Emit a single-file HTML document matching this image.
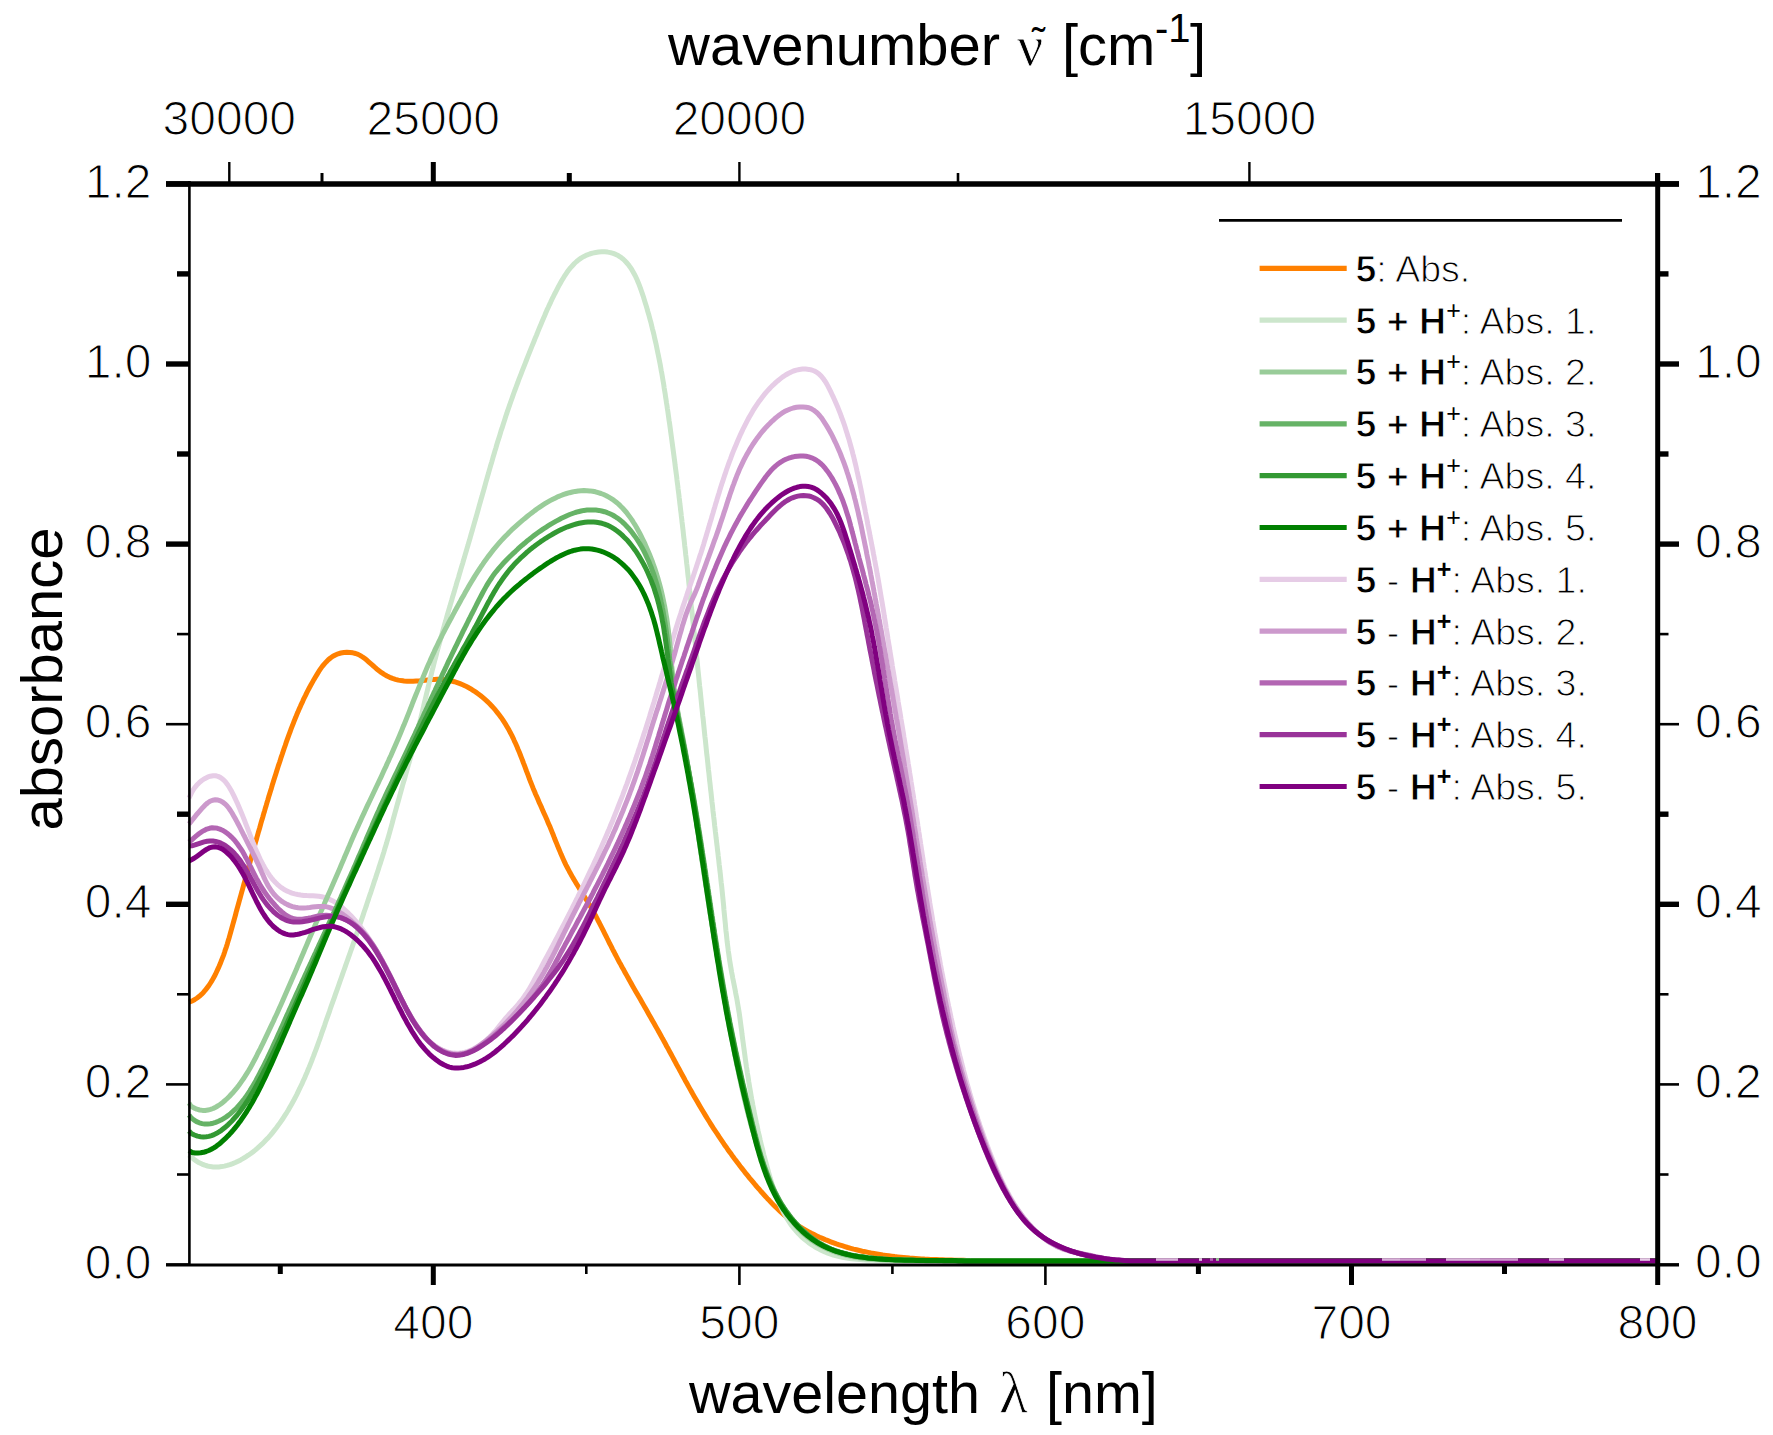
<!DOCTYPE html>
<html><head><meta charset="utf-8"><title>Absorbance spectra</title>
<style>
html,body{margin:0;padding:0;background:#fff;}
svg{display:block;}

</style></head><body>
<svg width="1773" height="1435" viewBox="0 0 1773 1435" font-family="Liberation Sans, Arial, sans-serif" fill="#000">
<rect width="1773" height="1435" fill="#fff"/>
<g fill="none" stroke-width="5.0" stroke-linejoin="round" stroke-linecap="butt">
<path d="M189.0,1002.0 L192.4,1000.9 L194.8,999.5 L197.1,998.0 L199.3,996.3 L201.4,994.4 L203.4,992.4 L205.3,990.2 L207.1,987.9 L208.9,985.5 L210.5,983.0 L212.1,980.4 L213.6,977.7 L215.1,975.0 L216.4,972.2 L217.7,969.4 L219.0,966.6 L220.2,963.8 L221.3,960.9 L222.4,958.1 L223.5,955.3 L224.5,952.5 L225.4,949.6 L226.4,946.8 L227.3,943.9 L228.1,941.1 L229.0,938.2 L229.8,935.4 L230.6,932.5 L231.4,929.6 L232.2,926.8 L233.0,923.9 L233.8,921.0 L234.6,918.1 L235.4,915.3 L236.1,912.4 L236.9,909.5 L237.7,906.6 L238.5,903.8 L239.3,900.9 L240.1,898.0 L240.9,895.1 L241.7,892.2 L242.5,889.3 L243.3,886.4 L244.1,883.5 L244.9,880.6 L245.7,877.7 L246.5,874.9 L247.3,872.0 L248.1,869.1 L248.9,866.2 L249.7,863.3 L250.5,860.4 L251.3,857.5 L252.1,854.6 L252.9,851.7 L253.7,848.8 L254.5,845.9 L255.3,843.0 L256.2,840.1 L257.0,837.2 L257.8,834.3 L258.6,831.4 L259.5,828.5 L260.3,825.6 L261.1,822.7 L261.9,819.9 L262.8,817.0 L263.6,814.1 L264.5,811.2 L265.3,808.3 L266.2,805.4 L267.0,802.6 L267.9,799.7 L268.7,796.8 L269.6,793.9 L270.5,791.1 L271.4,788.2 L272.2,785.3 L273.1,782.5 L274.0,779.6 L274.9,776.7 L275.8,773.9 L276.7,771.0 L277.6,768.2 L278.5,765.3 L279.5,762.5 L280.4,759.7 L281.3,756.8 L282.3,754.0 L283.2,751.2 L284.2,748.3 L285.2,745.5 L286.1,742.7 L287.1,739.9 L288.1,737.1 L289.1,734.3 L290.2,731.5 L291.2,728.7 L292.3,725.9 L293.4,723.1 L294.4,720.4 L295.6,717.6 L296.7,714.8 L297.9,712.1 L299.0,709.3 L300.3,706.6 L301.5,703.8 L302.8,701.1 L304.0,698.3 L305.4,695.6 L306.7,692.9 L308.1,690.2 L309.5,687.5 L311.0,684.8 L312.5,682.1 L314.0,679.4 L315.6,676.7 L317.2,674.1 L318.8,671.4 L320.5,668.9 L322.3,666.4 L324.2,664.1 L326.2,661.9 L328.3,659.8 L330.5,658.0 L332.9,656.3 L335.4,655.0 L338.1,653.8 L340.9,653.0 L343.9,652.5 L346.9,652.3 L350.0,652.5 L352.9,652.8 L355.6,653.5 L358.1,654.4 L360.4,655.6 L362.6,657.0 L364.8,658.6 L367.0,660.3 L369.2,662.3 L371.6,664.4 L374.0,666.5 L376.4,668.7 L379.0,670.7 L381.6,672.7 L384.2,674.4 L387.0,676.0 L389.7,677.3 L392.5,678.4 L395.4,679.3 L398.3,680.1 L401.2,680.6 L404.1,681.0 L407.1,681.2 L410.1,681.3 L413.1,681.3 L416.1,681.1 L419.1,680.9 L422.2,680.6 L425.2,680.3 L428.2,679.9 L431.2,679.6 L434.2,679.4 L437.2,679.3 L440.1,679.3 L443.0,679.5 L445.9,679.9 L448.8,680.3 L451.6,681.0 L454.4,681.7 L457.2,682.6 L460.0,683.6 L462.7,684.7 L465.3,685.9 L467.9,687.3 L470.5,688.7 L473.0,690.3 L475.5,691.9 L478.0,693.7 L480.4,695.5 L482.7,697.4 L485.0,699.4 L487.2,701.4 L489.4,703.5 L491.5,705.7 L493.5,707.9 L495.5,710.2 L497.4,712.6 L499.3,715.0 L501.1,717.4 L502.8,719.9 L504.4,722.4 L506.0,724.9 L507.5,727.5 L509.0,730.1 L510.4,732.7 L511.8,735.4 L513.1,738.1 L514.3,740.8 L515.6,743.5 L516.8,746.2 L517.9,749.0 L519.1,751.7 L520.2,754.5 L521.3,757.3 L522.4,760.1 L523.4,762.9 L524.5,765.7 L525.6,768.6 L526.6,771.4 L527.7,774.2 L528.8,777.1 L529.8,779.9 L530.9,782.7 L532.1,785.6 L533.2,788.4 L534.4,791.2 L535.5,794.0 L536.8,796.8 L538.0,799.6 L539.2,802.4 L540.4,805.1 L541.7,807.9 L542.9,810.7 L544.1,813.4 L545.4,816.2 L546.6,818.9 L547.7,821.7 L548.9,824.4 L550.1,827.1 L551.2,829.9 L552.3,832.6 L553.4,835.3 L554.4,838.0 L555.5,840.7 L556.6,843.4 L557.7,846.1 L558.8,848.8 L559.9,851.4 L561.0,854.1 L562.2,856.8 L563.4,859.5 L564.6,862.1 L565.9,864.8 L567.3,867.5 L568.7,870.1 L570.1,872.8 L571.6,875.4 L573.1,878.1 L574.7,880.7 L576.3,883.4 L577.9,886.0 L579.5,888.6 L581.2,891.3 L582.8,893.9 L584.4,896.6 L586.0,899.2 L587.6,901.8 L589.2,904.4 L590.8,907.1 L592.3,909.7 L593.7,912.3 L595.2,914.9 L596.6,917.6 L597.9,920.2 L599.3,922.8 L600.6,925.4 L602.0,928.1 L603.3,930.7 L604.6,933.3 L605.9,935.9 L607.2,938.5 L608.5,941.2 L609.8,943.8 L611.2,946.4 L612.5,949.1 L613.9,951.7 L615.2,954.3 L616.6,956.9 L618.0,959.6 L619.4,962.2 L620.9,964.8 L622.3,967.5 L623.8,970.1 L625.2,972.7 L626.7,975.4 L628.2,978.0 L629.6,980.6 L631.1,983.3 L632.6,985.9 L634.1,988.6 L635.6,991.2 L637.1,993.8 L638.7,996.5 L640.2,999.1 L641.7,1001.7 L643.2,1004.4 L644.7,1007.0 L646.2,1009.6 L647.7,1012.3 L649.2,1014.9 L650.7,1017.5 L652.2,1020.2 L653.7,1022.8 L655.2,1025.4 L656.7,1028.1 L658.2,1030.7 L659.6,1033.3 L661.1,1036.0 L662.5,1038.6 L664.0,1041.2 L665.4,1043.8 L666.8,1046.5 L668.3,1049.1 L669.7,1051.7 L671.1,1054.3 L672.5,1056.9 L673.9,1059.5 L675.3,1062.2 L676.7,1064.8 L678.2,1067.4 L679.6,1070.0 L681.0,1072.6 L682.4,1075.2 L683.8,1077.8 L685.2,1080.4 L686.7,1083.0 L688.1,1085.6 L689.5,1088.1 L691.0,1090.7 L692.4,1093.3 L693.9,1095.9 L695.4,1098.5 L696.9,1101.1 L698.4,1103.6 L699.9,1106.2 L701.4,1108.8 L702.9,1111.3 L704.5,1113.9 L706.0,1116.4 L707.6,1119.0 L709.2,1121.5 L710.8,1124.1 L712.4,1126.6 L714.0,1129.2 L715.7,1131.7 L717.4,1134.2 L719.0,1136.7 L720.7,1139.2 L722.4,1141.7 L724.1,1144.2 L725.9,1146.7 L727.6,1149.2 L729.4,1151.7 L731.2,1154.1 L732.9,1156.6 L734.7,1159.0 L736.6,1161.4 L738.4,1163.8 L740.2,1166.2 L742.1,1168.6 L744.0,1171.0 L745.8,1173.4 L747.7,1175.7 L749.6,1178.1 L751.6,1180.4 L753.5,1182.7 L755.4,1185.0 L757.4,1187.3 L759.4,1189.5 L761.3,1191.8 L763.3,1194.0 L765.3,1196.2 L767.3,1198.4 L769.4,1200.6 L771.4,1202.8 L773.5,1204.9 L775.6,1207.0 L777.7,1209.0 L779.9,1211.1 L782.1,1213.1 L784.3,1215.0 L786.5,1216.9 L788.8,1218.8 L791.2,1220.6 L793.5,1222.4 L796.0,1224.1 L798.4,1225.8 L801.0,1227.4 L803.5,1228.9 L806.1,1230.4 L808.8,1231.9 L811.4,1233.3 L814.1,1234.6 L816.8,1235.9 L819.6,1237.2 L822.4,1238.4 L825.1,1239.6 L827.9,1240.7 L830.7,1241.8 L833.6,1242.9 L836.4,1243.9 L839.2,1244.8 L842.1,1245.7 L844.9,1246.6 L847.8,1247.5 L850.7,1248.3 L853.6,1249.1 L856.5,1249.8 L859.4,1250.5 L862.3,1251.2 L865.2,1251.8 L868.1,1252.4 L871.0,1253.0 L874.0,1253.5 L876.9,1254.0 L879.9,1254.5 L882.8,1255.0 L885.8,1255.4 L888.8,1255.8 L891.7,1256.2 L894.7,1256.6 L897.7,1256.9 L900.7,1257.2 L903.6,1257.5 L906.6,1257.8 L909.6,1258.1 L912.6,1258.3 L915.6,1258.5 L918.6,1258.7 L921.6,1258.9 L924.6,1259.1 L927.6,1259.2 L930.6,1259.4 L933.6,1259.5 L936.6,1259.6 L939.6,1259.7 L942.6,1259.8 L945.6,1259.9 L948.6,1260.0 L951.6,1260.1 L954.6,1260.2 L957.6,1260.2 L960.6,1260.3 L963.6,1260.3 L966.6,1260.4 L969.6,1260.5 L972.6,1260.5 L975.6,1260.6 L978.6,1260.6 L981.6,1260.7 L984.6,1260.7 L987.6,1260.8 L990.6,1260.8 L993.6,1260.9 L996.6,1261.0 L999.6,1261.1 L1000.0,1261.0 L1010.0,1261.0 L1019.9,1261.0 L1029.9,1261.0 L1039.8,1261.0 L1049.8,1261.0 L1059.7,1261.0 L1069.7,1261.0 L1079.6,1261.0 L1089.6,1261.0 L1099.5,1261.0 L1109.5,1261.0 L1119.5,1261.0 L1129.4,1261.0 L1139.4,1261.0 L1149.3,1261.0 L1159.3,1261.0 L1169.2,1261.0 L1179.2,1261.0 L1189.1,1261.0 L1199.1,1261.0 L1209.0,1261.0 L1219.0,1261.0 L1229.0,1261.0 L1238.9,1261.0 L1248.9,1261.0 L1258.8,1261.0 L1268.8,1261.0 L1278.7,1261.0 L1288.7,1261.0 L1298.6,1261.0 L1308.6,1261.0 L1318.5,1261.0 L1328.5,1261.0 L1338.5,1261.0 L1348.4,1261.0 L1358.4,1261.0 L1368.3,1261.0 L1378.3,1261.0 L1388.2,1261.0 L1398.2,1261.0 L1408.1,1261.0 L1418.1,1261.0 L1428.0,1261.0 L1438.0,1261.0 L1448.0,1261.0 L1457.9,1261.0 L1467.9,1261.0 L1477.8,1261.0 L1487.8,1261.0 L1497.7,1261.0 L1507.7,1261.0 L1517.6,1261.0 L1527.6,1261.0 L1537.5,1261.0 L1547.5,1261.0 L1557.5,1261.0 L1567.4,1261.0 L1577.4,1261.0 L1587.3,1261.0 L1597.3,1261.0 L1607.2,1261.0 L1617.2,1261.0 L1627.1,1261.0 L1637.1,1261.0 L1647.0,1261.0 L1657.0,1261.0" stroke="#ff8000"/>
<path d="M189.0,1155.0 L191.2,1156.9 L193.8,1159.2 L196.5,1161.1 L199.2,1162.8 L202.0,1164.1 L204.8,1165.2 L207.5,1166.0 L210.3,1166.6 L213.2,1166.9 L216.0,1167.0 L218.8,1166.9 L221.6,1166.6 L224.4,1166.1 L227.2,1165.4 L230.0,1164.6 L232.7,1163.6 L235.4,1162.5 L238.1,1161.2 L240.7,1159.9 L243.3,1158.4 L245.8,1156.8 L248.3,1155.2 L250.8,1153.5 L253.2,1151.7 L255.5,1149.9 L257.8,1147.9 L260.0,1145.9 L262.2,1143.9 L264.3,1141.8 L266.4,1139.6 L268.5,1137.4 L270.5,1135.1 L272.4,1132.8 L274.3,1130.4 L276.2,1128.0 L278.0,1125.6 L279.8,1123.1 L281.6,1120.5 L283.3,1118.0 L284.9,1115.4 L286.6,1112.8 L288.2,1110.2 L289.7,1107.5 L291.2,1104.9 L292.7,1102.2 L294.2,1099.5 L295.6,1096.8 L297.0,1094.1 L298.3,1091.4 L299.6,1088.7 L300.9,1086.0 L302.2,1083.3 L303.4,1080.5 L304.7,1077.8 L305.8,1075.1 L307.0,1072.4 L308.1,1069.6 L309.3,1066.9 L310.4,1064.1 L311.5,1061.4 L312.5,1058.6 L313.6,1055.9 L314.6,1053.1 L315.7,1050.3 L316.7,1047.6 L317.7,1044.8 L318.7,1042.0 L319.7,1039.3 L320.7,1036.5 L321.6,1033.7 L322.6,1030.9 L323.6,1028.1 L324.6,1025.3 L325.5,1022.5 L326.5,1019.7 L327.5,1016.9 L328.5,1014.1 L329.5,1011.3 L330.4,1008.5 L331.4,1005.7 L332.4,1002.9 L333.4,1000.1 L334.4,997.3 L335.4,994.4 L336.4,991.6 L337.4,988.8 L338.4,986.0 L339.4,983.2 L340.4,980.3 L341.4,977.5 L342.4,974.7 L343.4,971.8 L344.4,969.0 L345.4,966.2 L346.4,963.3 L347.4,960.5 L348.4,957.6 L349.4,954.8 L350.4,952.0 L351.4,949.1 L352.4,946.3 L353.4,943.4 L354.4,940.6 L355.3,937.7 L356.3,934.9 L357.3,932.0 L358.3,929.2 L359.3,926.3 L360.2,923.5 L361.2,920.6 L362.2,917.8 L363.2,914.9 L364.1,912.1 L365.1,909.2 L366.1,906.4 L367.0,903.5 L368.0,900.7 L368.9,897.8 L369.9,894.9 L370.9,892.1 L371.8,889.2 L372.8,886.3 L373.7,883.5 L374.6,880.6 L375.6,877.8 L376.5,874.9 L377.5,872.0 L378.4,869.2 L379.3,866.3 L380.3,863.4 L381.2,860.6 L382.1,857.7 L383.0,854.8 L383.9,851.9 L384.7,849.1 L385.6,846.2 L386.5,843.3 L387.3,840.4 L388.2,837.6 L389.0,834.7 L389.8,831.8 L390.6,828.9 L391.4,826.1 L392.2,823.2 L392.9,820.3 L393.7,817.4 L394.5,814.6 L395.3,811.7 L396.1,808.8 L396.9,805.9 L397.7,803.0 L398.5,800.2 L399.3,797.3 L400.1,794.4 L400.9,791.5 L401.7,788.6 L402.5,785.7 L403.3,782.8 L404.2,780.0 L405.0,777.1 L405.8,774.2 L406.6,771.3 L407.4,768.4 L408.2,765.5 L409.1,762.6 L409.9,759.7 L410.7,756.9 L411.5,754.0 L412.2,751.1 L413.0,748.2 L413.8,745.3 L414.6,742.4 L415.3,739.5 L416.1,736.6 L416.8,733.7 L417.6,730.8 L418.3,727.9 L419.0,725.1 L419.7,722.2 L420.5,719.3 L421.2,716.4 L421.9,713.5 L422.6,710.6 L423.3,707.7 L423.9,704.8 L424.6,701.9 L425.3,699.0 L426.0,696.1 L426.7,693.2 L427.4,690.3 L428.1,687.4 L428.8,684.5 L429.5,681.6 L430.2,678.7 L430.9,675.8 L431.6,672.9 L432.3,670.0 L433.1,667.1 L433.8,664.2 L434.5,661.3 L435.3,658.5 L436.1,655.6 L436.8,652.7 L437.6,649.8 L438.4,646.9 L439.2,644.0 L440.0,641.1 L440.8,638.2 L441.6,635.3 L442.4,632.4 L443.2,629.5 L444.0,626.6 L444.8,623.7 L445.7,620.8 L446.5,617.9 L447.3,615.0 L448.2,612.1 L449.0,609.2 L449.9,606.3 L450.7,603.4 L451.6,600.5 L452.4,597.6 L453.3,594.7 L454.2,591.8 L455.0,588.9 L455.9,586.0 L456.7,583.1 L457.6,580.2 L458.5,577.4 L459.3,574.5 L460.2,571.6 L461.0,568.7 L461.9,565.8 L462.8,562.9 L463.6,560.0 L464.5,557.1 L465.3,554.2 L466.2,551.3 L467.0,548.4 L467.9,545.6 L468.7,542.7 L469.6,539.8 L470.4,536.9 L471.2,534.0 L472.1,531.1 L472.9,528.2 L473.7,525.4 L474.5,522.5 L475.4,519.6 L476.2,516.7 L477.0,513.8 L477.8,511.0 L478.6,508.1 L479.4,505.2 L480.2,502.3 L481.0,499.5 L481.9,496.6 L482.7,493.7 L483.5,490.8 L484.3,488.0 L485.1,485.1 L485.9,482.2 L486.7,479.3 L487.5,476.5 L488.4,473.6 L489.2,470.7 L490.0,467.9 L490.8,465.0 L491.7,462.2 L492.5,459.3 L493.3,456.4 L494.2,453.6 L495.0,450.7 L495.9,447.9 L496.7,445.0 L497.6,442.1 L498.5,439.3 L499.4,436.4 L500.3,433.6 L501.1,430.7 L502.1,427.9 L503.0,425.0 L503.9,422.2 L504.8,419.4 L505.7,416.5 L506.7,413.7 L507.6,410.8 L508.6,408.0 L509.6,405.2 L510.6,402.3 L511.6,399.5 L512.6,396.7 L513.6,393.8 L514.6,391.0 L515.7,388.2 L516.7,385.3 L517.8,382.5 L518.8,379.7 L519.9,376.9 L521.0,374.1 L522.1,371.2 L523.2,368.4 L524.3,365.6 L525.4,362.8 L526.5,360.0 L527.6,357.2 L528.7,354.4 L529.8,351.6 L530.9,348.8 L532.0,346.1 L533.2,343.3 L534.3,340.5 L535.4,337.7 L536.6,335.0 L537.7,332.2 L538.8,329.4 L539.9,326.7 L541.1,323.9 L542.2,321.2 L543.4,318.4 L544.6,315.7 L545.7,313.0 L546.9,310.2 L548.2,307.5 L549.4,304.8 L550.7,302.1 L551.9,299.4 L553.3,296.7 L554.6,294.0 L556.0,291.3 L557.4,288.6 L558.8,285.9 L560.3,283.2 L561.8,280.6 L563.4,277.9 L565.0,275.3 L566.7,272.8 L568.5,270.3 L570.4,267.9 L572.4,265.7 L574.4,263.5 L576.6,261.5 L578.9,259.6 L581.4,257.9 L584.0,256.4 L586.7,255.1 L589.6,254.0 L592.5,253.1 L595.6,252.5 L598.6,252.0 L601.7,251.8 L604.7,251.8 L607.7,252.1 L610.5,252.6 L613.2,253.4 L615.8,254.4 L618.2,255.6 L620.5,257.1 L622.6,258.7 L624.6,260.5 L626.5,262.5 L628.3,264.6 L630.0,266.9 L631.6,269.2 L633.0,271.7 L634.4,274.3 L635.8,276.9 L637.0,279.6 L638.2,282.4 L639.3,285.2 L640.4,288.1 L641.4,291.0 L642.4,293.9 L643.4,296.8 L644.3,299.7 L645.2,302.7 L646.1,305.6 L647.0,308.5 L647.8,311.5 L648.7,314.4 L649.5,317.4 L650.3,320.3 L651.1,323.2 L651.8,326.2 L652.5,329.1 L653.3,332.1 L654.0,335.0 L654.6,337.9 L655.3,340.9 L656.0,343.8 L656.6,346.8 L657.2,349.7 L657.8,352.7 L658.4,355.6 L659.0,358.6 L659.6,361.5 L660.2,364.5 L660.7,367.4 L661.2,370.4 L661.8,373.3 L662.3,376.3 L662.8,379.3 L663.3,382.2 L663.8,385.2 L664.2,388.1 L664.7,391.1 L665.2,394.0 L665.6,397.0 L666.1,400.0 L666.5,402.9 L667.0,405.9 L667.4,408.8 L667.9,411.8 L668.3,414.8 L668.7,417.7 L669.1,420.7 L669.6,423.7 L670.0,426.6 L670.4,429.6 L670.8,432.6 L671.2,435.5 L671.6,438.5 L672.0,441.5 L672.4,444.4 L672.8,447.4 L673.2,450.4 L673.6,453.3 L674.0,456.3 L674.4,459.3 L674.8,462.3 L675.1,465.2 L675.5,468.2 L675.9,471.2 L676.3,474.2 L676.7,477.1 L677.0,480.1 L677.4,483.1 L677.8,486.0 L678.1,489.0 L678.5,492.0 L678.9,495.0 L679.2,498.0 L679.6,500.9 L679.9,503.9 L680.3,506.9 L680.6,509.9 L681.0,512.8 L681.3,515.8 L681.7,518.8 L682.0,521.8 L682.4,524.8 L682.7,527.7 L683.1,530.7 L683.4,533.7 L683.7,536.7 L684.1,539.7 L684.4,542.6 L684.7,545.6 L685.1,548.6 L685.4,551.6 L685.7,554.6 L686.1,557.5 L686.4,560.5 L686.7,563.5 L687.1,566.5 L687.4,569.5 L687.7,572.4 L688.0,575.4 L688.4,578.4 L688.7,581.4 L689.0,584.4 L689.3,587.3 L689.6,590.3 L690.0,593.3 L690.3,596.3 L690.6,599.3 L690.9,602.3 L691.2,605.2 L691.5,608.2 L691.9,611.2 L692.2,614.2 L692.5,617.2 L692.8,620.2 L693.1,623.1 L693.4,626.1 L693.7,629.1 L694.1,632.1 L694.4,635.1 L694.7,638.0 L695.0,641.0 L695.3,644.0 L695.6,647.0 L695.9,650.0 L696.2,653.0 L696.5,655.9 L696.9,658.9 L697.2,661.9 L697.5,664.9 L697.8,667.9 L698.1,670.9 L698.4,673.8 L698.7,676.8 L699.0,679.8 L699.3,682.8 L699.6,685.8 L700.0,688.8 L700.3,691.7 L700.6,694.7 L700.9,697.7 L701.2,700.7 L701.5,703.7 L701.8,706.7 L702.1,709.6 L702.4,712.6 L702.7,715.6 L703.1,718.6 L703.4,721.6 L703.7,724.6 L704.0,727.5 L704.3,730.5 L704.6,733.5 L704.9,736.5 L705.3,739.5 L705.6,742.5 L705.9,745.4 L706.2,748.4 L706.5,751.4 L706.8,754.4 L707.2,757.4 L707.5,760.4 L707.8,763.3 L708.1,766.3 L708.4,769.3 L708.8,772.3 L709.1,775.3 L709.4,778.3 L709.7,781.2 L710.1,784.2 L710.4,787.2 L710.7,790.2 L711.1,793.2 L711.4,796.2 L711.7,799.1 L712.0,802.1 L712.4,805.1 L712.7,808.1 L713.0,811.1 L713.4,814.1 L713.7,817.0 L714.1,820.0 L714.4,823.0 L714.7,826.0 L715.1,829.0 L715.4,832.0 L715.8,834.9 L716.1,837.9 L716.5,840.9 L716.8,843.9 L717.2,846.9 L717.5,849.9 L717.9,852.8 L718.2,855.8 L718.6,858.8 L718.9,861.8 L719.2,864.8 L719.6,867.7 L719.9,870.7 L720.3,873.7 L720.6,876.7 L720.9,879.7 L721.2,882.6 L721.6,885.6 L721.9,888.6 L722.2,891.6 L722.5,894.6 L722.8,897.5 L723.1,900.5 L723.4,903.5 L723.7,906.5 L723.9,909.5 L724.2,912.4 L724.5,915.4 L724.8,918.4 L725.1,921.4 L725.4,924.4 L725.6,927.3 L725.9,930.3 L726.3,933.3 L726.6,936.3 L726.9,939.2 L727.2,942.2 L727.6,945.2 L728.0,948.2 L728.3,951.1 L728.8,954.1 L729.2,957.1 L729.6,960.0 L730.1,963.0 L730.6,966.0 L731.1,969.0 L731.6,971.9 L732.2,974.9 L732.7,977.9 L733.3,980.8 L733.9,983.8 L734.5,986.8 L735.1,989.7 L735.6,992.7 L736.2,995.7 L736.8,998.6 L737.3,1001.6 L737.8,1004.6 L738.3,1007.5 L738.8,1010.5 L739.3,1013.5 L739.7,1016.4 L740.1,1019.4 L740.5,1022.3 L740.9,1025.3 L741.3,1028.3 L741.7,1031.2 L742.0,1034.2 L742.4,1037.1 L742.8,1040.1 L743.2,1043.0 L743.6,1046.0 L744.0,1048.9 L744.4,1051.9 L744.8,1054.9 L745.2,1057.8 L745.6,1060.8 L746.0,1063.7 L746.4,1066.7 L746.9,1069.6 L747.3,1072.6 L747.8,1075.5 L748.3,1078.4 L748.7,1081.4 L749.2,1084.3 L749.7,1087.3 L750.2,1090.2 L750.7,1093.2 L751.2,1096.1 L751.7,1099.0 L752.3,1102.0 L752.8,1104.9 L753.4,1107.9 L753.9,1110.8 L754.5,1113.7 L755.1,1116.7 L755.7,1119.6 L756.3,1122.5 L757.0,1125.5 L757.6,1128.4 L758.2,1131.3 L758.9,1134.3 L759.6,1137.2 L760.2,1140.1 L760.9,1143.1 L761.6,1146.0 L762.4,1148.9 L763.1,1151.9 L763.8,1154.8 L764.6,1157.7 L765.4,1160.7 L766.2,1163.6 L767.0,1166.6 L767.8,1169.5 L768.6,1172.4 L769.5,1175.4 L770.3,1178.3 L771.2,1181.2 L772.1,1184.1 L773.1,1187.0 L774.0,1189.9 L775.0,1192.8 L776.1,1195.6 L777.2,1198.4 L778.3,1201.2 L779.5,1204.0 L780.7,1206.7 L782.0,1209.4 L783.3,1212.0 L784.7,1214.6 L786.2,1217.2 L787.7,1219.7 L789.3,1222.2 L790.9,1224.6 L792.7,1226.9 L794.5,1229.2 L796.4,1231.4 L798.3,1233.5 L800.4,1235.6 L802.5,1237.6 L804.8,1239.6 L807.1,1241.4 L809.4,1243.2 L811.9,1244.9 L814.4,1246.5 L817.0,1248.0 L819.6,1249.4 L822.3,1250.7 L825.0,1252.0 L827.8,1253.1 L830.7,1254.1 L833.5,1255.1 L836.4,1255.9 L839.4,1256.6 L842.3,1257.2 L845.3,1257.8 L848.3,1258.3 L851.3,1258.7 L854.3,1259.0 L857.3,1259.3 L860.4,1259.5 L863.4,1259.7 L866.4,1259.9 L869.4,1260.0 L872.4,1260.1 L875.4,1260.2 L878.4,1260.3 L881.3,1260.3 L884.3,1260.4 L887.3,1260.4 L890.3,1260.4 L893.2,1260.4 L896.2,1260.4 L899.2,1260.5 L902.2,1260.5 L905.1,1260.5 L908.1,1260.5 L911.1,1260.5 L914.1,1260.6 L917.1,1260.6 L920.2,1260.7 L923.2,1260.8 L926.2,1260.9 L929.3,1261.1 L931.4,1260.9 L940.0,1261.0 L950.0,1261.0 L959.9,1261.0 L969.9,1261.0 L979.8,1261.0 L989.8,1261.0 L999.8,1261.0 L1009.7,1261.0 L1019.7,1261.0 L1029.6,1261.0 L1039.6,1261.0 L1049.5,1261.0 L1059.5,1261.0 L1069.5,1261.0 L1079.4,1261.0 L1089.4,1261.0 L1099.3,1261.0 L1109.3,1261.0 L1119.2,1261.0 L1129.2,1261.0 L1139.2,1261.0 L1149.1,1261.0 L1159.1,1261.0 L1169.0,1261.0 L1179.0,1261.0 L1189.0,1261.0 L1198.9,1261.0 L1208.9,1261.0 L1218.8,1261.0 L1228.8,1261.0 L1238.8,1261.0 L1248.7,1261.0 L1258.7,1261.0 L1268.6,1261.0 L1278.6,1261.0 L1288.5,1261.0 L1298.5,1261.0 L1308.5,1261.0 L1318.4,1261.0 L1328.4,1261.0 L1338.3,1261.0 L1348.3,1261.0 L1358.2,1261.0 L1368.2,1261.0 L1378.2,1261.0 L1388.1,1261.0 L1398.1,1261.0 L1408.0,1261.0 L1418.0,1261.0 L1428.0,1261.0 L1437.9,1261.0 L1447.9,1261.0 L1457.8,1261.0 L1467.8,1261.0 L1477.8,1261.0 L1487.7,1261.0 L1497.7,1261.0 L1507.6,1261.0 L1517.6,1261.0 L1527.5,1261.0 L1537.5,1261.0 L1547.5,1261.0 L1557.4,1261.0 L1567.4,1261.0 L1577.3,1261.0 L1587.3,1261.0 L1597.2,1261.0 L1607.2,1261.0 L1617.2,1261.0 L1627.1,1261.0 L1637.1,1261.0 L1647.0,1261.0 L1657.0,1261.0" stroke="#cce6cc"/>
<path d="M189.0,798.0 L190.2,795.7 L191.4,793.1 L192.9,790.4 L194.7,787.7 L196.8,785.1 L199.2,782.7 L201.8,780.5 L204.6,778.7 L207.5,777.2 L210.3,776.2 L213.1,775.7 L215.6,775.8 L218.0,776.4 L220.2,777.4 L222.3,778.8 L224.3,780.6 L226.1,782.7 L227.8,785.0 L229.4,787.5 L231.0,790.2 L232.4,792.9 L233.8,795.7 L235.1,798.4 L236.4,801.2 L237.7,803.9 L238.9,806.7 L240.0,809.4 L241.2,812.2 L242.3,814.9 L243.4,817.6 L244.5,820.4 L245.5,823.1 L246.6,825.9 L247.7,828.6 L248.7,831.4 L249.8,834.2 L250.8,836.9 L251.9,839.7 L253.0,842.5 L254.2,845.3 L255.3,848.2 L256.5,851.0 L257.8,853.8 L259.1,856.7 L260.4,859.5 L261.8,862.3 L263.2,865.0 L264.7,867.7 L266.3,870.4 L267.9,872.9 L269.6,875.4 L271.4,877.8 L273.3,880.1 L275.3,882.3 L277.3,884.3 L279.5,886.2 L281.8,887.9 L284.1,889.5 L286.6,890.9 L289.3,892.0 L292.0,893.1 L294.8,893.9 L297.7,894.5 L300.7,895.0 L303.7,895.4 L306.8,895.6 L309.8,895.7 L312.9,895.8 L315.9,896.0 L318.8,896.2 L321.7,896.7 L324.5,897.4 L327.2,898.3 L329.8,899.4 L332.4,900.7 L334.9,902.2 L337.3,903.8 L339.7,905.5 L342.0,907.3 L344.2,909.3 L346.4,911.3 L348.6,913.4 L350.7,915.5 L352.7,917.7 L354.7,920.0 L356.7,922.2 L358.6,924.6 L360.5,926.9 L362.4,929.3 L364.2,931.7 L366.0,934.2 L367.7,936.7 L369.4,939.2 L371.1,941.8 L372.7,944.3 L374.3,946.9 L375.9,949.5 L377.4,952.1 L378.9,954.8 L380.4,957.4 L381.9,960.1 L383.3,962.7 L384.8,965.4 L386.2,968.0 L387.5,970.7 L388.9,973.4 L390.2,976.0 L391.5,978.6 L392.8,981.3 L394.1,983.9 L395.4,986.5 L396.7,989.1 L398.0,991.7 L399.3,994.4 L400.6,997.0 L401.9,999.6 L403.3,1002.2 L404.6,1004.8 L406.0,1007.5 L407.4,1010.1 L408.9,1012.8 L410.4,1015.4 L411.9,1018.1 L413.5,1020.8 L415.2,1023.5 L416.9,1026.1 L418.7,1028.7 L420.5,1031.3 L422.4,1033.7 L424.4,1036.1 L426.4,1038.4 L428.5,1040.6 L430.8,1042.6 L433.1,1044.5 L435.5,1046.2 L437.9,1047.8 L440.5,1049.2 L443.1,1050.4 L445.7,1051.4 L448.4,1052.2 L451.1,1052.7 L453.9,1053.1 L456.7,1053.2 L459.5,1053.1 L462.3,1052.8 L465.1,1052.2 L467.9,1051.3 L470.6,1050.2 L473.4,1049.0 L476.0,1047.5 L478.7,1045.9 L481.2,1044.1 L483.7,1042.3 L486.1,1040.3 L488.4,1038.2 L490.6,1036.1 L492.6,1034.0 L494.6,1031.8 L496.5,1029.6 L498.3,1027.4 L500.1,1025.1 L501.9,1022.8 L503.8,1020.5 L505.7,1018.2 L507.8,1015.9 L509.9,1013.5 L512.1,1011.1 L514.4,1008.7 L516.5,1006.3 L518.6,1003.9 L520.6,1001.4 L522.5,999.0 L524.3,996.5 L526.0,994.0 L527.6,991.5 L529.2,989.0 L530.7,986.4 L532.1,983.9 L533.5,981.4 L534.9,978.8 L536.3,976.3 L537.7,973.7 L539.1,971.1 L540.5,968.6 L541.9,966.0 L543.2,963.4 L544.6,960.8 L546.0,958.2 L547.4,955.6 L548.8,953.0 L550.2,950.4 L551.6,947.8 L553.0,945.2 L554.3,942.6 L555.7,940.0 L557.1,937.3 L558.5,934.7 L559.9,932.0 L561.2,929.4 L562.6,926.8 L564.0,924.1 L565.4,921.4 L566.7,918.8 L568.1,916.1 L569.5,913.5 L570.8,910.8 L572.2,908.1 L573.5,905.4 L574.9,902.7 L576.2,900.0 L577.6,897.3 L578.9,894.6 L580.2,891.9 L581.6,889.2 L582.9,886.5 L584.2,883.8 L585.5,881.1 L586.8,878.4 L588.1,875.7 L589.4,872.9 L590.7,870.2 L592.0,867.5 L593.3,864.7 L594.5,862.0 L595.8,859.2 L597.1,856.5 L598.3,853.7 L599.5,851.0 L600.8,848.2 L602.0,845.5 L603.2,842.7 L604.4,839.9 L605.6,837.2 L606.8,834.4 L608.0,831.6 L609.2,828.9 L610.3,826.1 L611.5,823.3 L612.7,820.5 L613.8,817.7 L614.9,814.9 L616.0,812.1 L617.1,809.3 L618.2,806.5 L619.3,803.7 L620.4,800.9 L621.5,798.1 L622.6,795.3 L623.6,792.5 L624.7,789.7 L625.7,786.9 L626.8,784.1 L627.8,781.3 L628.8,778.4 L629.8,775.6 L630.8,772.8 L631.8,770.0 L632.8,767.1 L633.8,764.3 L634.8,761.5 L635.8,758.7 L636.7,755.8 L637.7,753.0 L638.6,750.1 L639.6,747.3 L640.5,744.5 L641.5,741.6 L642.4,738.8 L643.3,735.9 L644.2,733.1 L645.2,730.3 L646.1,727.4 L647.0,724.6 L647.9,721.7 L648.8,718.9 L649.7,716.0 L650.5,713.2 L651.4,710.3 L652.3,707.4 L653.2,704.6 L654.1,701.7 L654.9,698.9 L655.8,696.0 L656.6,693.2 L657.5,690.3 L658.4,687.5 L659.2,684.6 L660.1,681.7 L660.9,678.9 L661.7,676.0 L662.6,673.2 L663.4,670.3 L664.3,667.4 L665.1,664.6 L666.0,661.7 L666.8,658.9 L667.7,656.0 L668.5,653.1 L669.4,650.3 L670.2,647.4 L671.1,644.5 L671.9,641.7 L672.8,638.8 L673.7,635.9 L674.6,633.1 L675.4,630.2 L676.3,627.3 L677.2,624.5 L678.1,621.6 L679.0,618.7 L679.9,615.9 L680.9,613.0 L681.8,610.1 L682.7,607.3 L683.7,604.4 L684.7,601.5 L685.6,598.7 L686.6,595.8 L687.5,592.9 L688.5,590.1 L689.5,587.2 L690.5,584.3 L691.4,581.5 L692.4,578.6 L693.4,575.7 L694.3,572.9 L695.3,570.0 L696.3,567.1 L697.2,564.3 L698.2,561.4 L699.1,558.5 L700.0,555.6 L701.0,552.8 L701.9,549.9 L702.8,547.0 L703.7,544.2 L704.5,541.3 L705.4,538.4 L706.3,535.6 L707.1,532.7 L708.0,529.8 L708.8,527.0 L709.7,524.1 L710.5,521.2 L711.4,518.4 L712.2,515.5 L713.1,512.7 L713.9,509.8 L714.8,506.9 L715.6,504.1 L716.5,501.2 L717.3,498.4 L718.2,495.5 L719.1,492.7 L719.9,489.9 L720.8,487.0 L721.7,484.2 L722.7,481.4 L723.6,478.5 L724.5,475.7 L725.5,472.9 L726.4,470.1 L727.4,467.2 L728.4,464.4 L729.4,461.6 L730.5,458.8 L731.5,456.0 L732.6,453.2 L733.7,450.4 L734.8,447.7 L736.0,444.9 L737.2,442.1 L738.4,439.3 L739.6,436.6 L740.8,433.8 L742.1,431.1 L743.4,428.3 L744.8,425.6 L746.2,422.9 L747.6,420.2 L749.0,417.5 L750.5,414.9 L752.1,412.2 L753.6,409.6 L755.2,407.1 L756.9,404.6 L758.6,402.1 L760.4,399.7 L762.2,397.3 L764.0,394.9 L765.9,392.6 L767.9,390.4 L769.9,388.2 L771.9,386.1 L774.1,384.1 L776.2,382.1 L778.5,380.2 L780.8,378.4 L783.2,376.6 L785.6,375.0 L788.2,373.5 L790.8,372.2 L793.5,371.0 L796.4,370.1 L799.4,369.5 L802.5,369.1 L805.7,369.1 L808.8,369.4 L811.7,370.0 L814.4,371.0 L816.9,372.4 L819.1,374.1 L821.2,376.1 L823.0,378.3 L824.7,380.7 L826.3,383.2 L827.8,385.9 L829.2,388.6 L830.6,391.4 L831.9,394.2 L833.2,396.9 L834.5,399.7 L835.7,402.5 L836.9,405.3 L838.1,408.1 L839.2,410.9 L840.3,413.7 L841.3,416.5 L842.4,419.3 L843.4,422.1 L844.4,425.0 L845.3,427.8 L846.2,430.7 L847.1,433.5 L848.0,436.4 L848.9,439.2 L849.7,442.1 L850.5,445.0 L851.3,447.9 L852.1,450.7 L852.8,453.6 L853.6,456.5 L854.3,459.4 L855.0,462.3 L855.7,465.2 L856.4,468.2 L857.0,471.1 L857.7,474.0 L858.3,476.9 L859.0,479.8 L859.6,482.8 L860.2,485.7 L860.8,488.6 L861.4,491.6 L862.0,494.5 L862.6,497.5 L863.1,500.4 L863.7,503.4 L864.3,506.3 L864.9,509.2 L865.4,512.2 L866.0,515.1 L866.6,518.1 L867.2,521.0 L867.7,524.0 L868.3,526.9 L868.9,529.9 L869.5,532.8 L870.0,535.8 L870.6,538.7 L871.2,541.7 L871.7,544.6 L872.3,547.6 L872.9,550.5 L873.4,553.5 L874.0,556.4 L874.5,559.4 L875.1,562.3 L875.6,565.3 L876.2,568.2 L876.7,571.2 L877.2,574.1 L877.8,577.1 L878.3,580.0 L878.8,583.0 L879.3,586.0 L879.8,588.9 L880.3,591.9 L880.8,594.8 L881.3,597.8 L881.8,600.7 L882.3,603.7 L882.8,606.6 L883.3,609.6 L883.8,612.6 L884.2,615.5 L884.7,618.5 L885.2,621.4 L885.7,624.4 L886.1,627.3 L886.6,630.3 L887.1,633.2 L887.6,636.2 L888.0,639.2 L888.5,642.1 L889.0,645.1 L889.5,648.0 L889.9,651.0 L890.4,654.0 L890.9,656.9 L891.4,659.9 L891.9,662.8 L892.3,665.8 L892.8,668.8 L893.3,671.7 L893.8,674.7 L894.3,677.6 L894.7,680.6 L895.2,683.6 L895.7,686.5 L896.2,689.5 L896.7,692.4 L897.2,695.4 L897.7,698.4 L898.1,701.3 L898.6,704.3 L899.1,707.2 L899.6,710.2 L900.1,713.2 L900.6,716.1 L901.0,719.1 L901.5,722.1 L902.0,725.0 L902.5,728.0 L903.0,730.9 L903.5,733.9 L903.9,736.9 L904.4,739.8 L904.9,742.8 L905.4,745.8 L905.8,748.7 L906.3,751.7 L906.8,754.7 L907.3,757.6 L907.8,760.6 L908.2,763.6 L908.7,766.5 L909.2,769.5 L909.6,772.4 L910.1,775.4 L910.6,778.4 L911.0,781.3 L911.5,784.3 L912.0,787.3 L912.4,790.2 L912.9,793.2 L913.4,796.2 L913.8,799.1 L914.3,802.1 L914.7,805.1 L915.2,808.0 L915.6,811.0 L916.1,814.0 L916.5,816.9 L917.0,819.9 L917.5,822.9 L917.9,825.8 L918.4,828.8 L918.8,831.8 L919.3,834.7 L919.7,837.7 L920.2,840.6 L920.6,843.6 L921.1,846.6 L921.5,849.5 L922.0,852.5 L922.4,855.5 L922.9,858.4 L923.3,861.4 L923.8,864.4 L924.2,867.3 L924.7,870.3 L925.2,873.2 L925.6,876.2 L926.1,879.2 L926.5,882.1 L927.0,885.1 L927.5,888.1 L927.9,891.0 L928.4,894.0 L928.9,896.9 L929.4,899.9 L929.8,902.9 L930.3,905.8 L930.8,908.8 L931.3,911.7 L931.8,914.7 L932.3,917.6 L932.7,920.6 L933.2,923.5 L933.7,926.5 L934.2,929.5 L934.7,932.4 L935.3,935.4 L935.8,938.3 L936.3,941.3 L936.8,944.2 L937.3,947.2 L937.9,950.1 L938.4,953.1 L938.9,956.0 L939.5,959.0 L940.0,961.9 L940.5,964.9 L941.1,967.8 L941.6,970.7 L942.2,973.7 L942.8,976.6 L943.3,979.6 L943.9,982.5 L944.5,985.4 L945.1,988.4 L945.7,991.3 L946.2,994.3 L946.8,997.2 L947.4,1000.1 L948.0,1003.1 L948.6,1006.0 L949.3,1008.9 L949.9,1011.9 L950.5,1014.8 L951.1,1017.7 L951.8,1020.7 L952.4,1023.6 L953.0,1026.5 L953.7,1029.4 L954.3,1032.4 L955.0,1035.3 L955.7,1038.2 L956.4,1041.1 L957.0,1044.0 L957.7,1047.0 L958.4,1049.9 L959.1,1052.8 L959.8,1055.7 L960.6,1058.6 L961.3,1061.5 L962.0,1064.5 L962.8,1067.4 L963.5,1070.3 L964.3,1073.2 L965.1,1076.1 L965.8,1079.0 L966.6,1081.9 L967.4,1084.8 L968.3,1087.7 L969.1,1090.6 L969.9,1093.5 L970.8,1096.4 L971.6,1099.3 L972.5,1102.2 L973.4,1105.1 L974.3,1108.0 L975.2,1110.8 L976.1,1113.7 L977.1,1116.6 L978.0,1119.5 L979.0,1122.3 L979.9,1125.2 L980.9,1128.1 L981.9,1130.9 L982.9,1133.7 L983.9,1136.6 L984.9,1139.4 L986.0,1142.2 L987.0,1145.0 L988.1,1147.9 L989.1,1150.6 L990.2,1153.4 L991.3,1156.2 L992.4,1159.0 L993.5,1161.7 L994.6,1164.5 L995.8,1167.2 L996.9,1169.9 L998.1,1172.6 L999.3,1175.3 L1000.5,1178.0 L1001.7,1180.7 L1003.0,1183.3 L1004.3,1186.0 L1005.6,1188.6 L1007.0,1191.2 L1008.4,1193.8 L1009.8,1196.4 L1011.3,1199.0 L1012.8,1201.5 L1014.3,1204.1 L1015.9,1206.6 L1017.6,1209.1 L1019.3,1211.5 L1021.0,1214.0 L1022.8,1216.4 L1024.6,1218.9 L1026.5,1221.3 L1028.5,1223.6 L1030.5,1226.0 L1032.6,1228.2 L1034.7,1230.4 L1036.9,1232.6 L1039.2,1234.6 L1041.5,1236.6 L1043.9,1238.5 L1046.3,1240.3 L1048.8,1241.9 L1051.4,1243.4 L1054.0,1244.8 L1056.7,1246.0 L1059.4,1247.2 L1062.2,1248.2 L1065.0,1249.2 L1067.9,1250.0 L1070.8,1250.8 L1073.7,1251.6 L1076.6,1252.3 L1079.5,1253.0 L1082.5,1253.8 L1085.4,1254.5 L1088.3,1255.2 L1091.2,1255.8 L1094.2,1256.5 L1097.1,1257.2 L1100.0,1257.8 L1102.9,1258.4 L1105.9,1258.9 L1108.8,1259.4 L1111.8,1259.8 L1114.8,1260.2 L1117.7,1260.5 L1120.7,1260.8 L1123.7,1260.9 L1126.7,1261.0 L1129.7,1261.0 L1132.8,1260.9 L1135.0,1261.0 L1144.8,1261.0 L1154.7,1261.0 L1164.5,1261.0 L1174.4,1261.0 L1184.2,1261.0 L1194.1,1261.0 L1203.9,1261.0 L1213.8,1261.0 L1223.6,1261.0 L1233.5,1261.0 L1243.3,1261.0 L1253.2,1261.0 L1263.0,1261.0 L1272.9,1261.0 L1282.7,1261.0 L1292.6,1261.0 L1302.4,1261.0 L1312.3,1261.0 L1322.1,1261.0 L1332.0,1261.0 L1341.8,1261.0 L1351.7,1261.0 L1361.5,1261.0 L1371.4,1261.0 L1381.2,1261.0 L1391.1,1261.0 L1400.9,1261.0 L1410.8,1261.0 L1420.6,1261.0 L1430.5,1261.0 L1440.3,1261.0 L1450.2,1261.0 L1460.0,1261.0 L1469.9,1261.0 L1479.7,1261.0 L1489.6,1261.0 L1499.4,1261.0 L1509.3,1261.0 L1519.1,1261.0 L1529.0,1261.0 L1538.8,1261.0 L1548.7,1261.0 L1558.5,1261.0 L1568.4,1261.0 L1578.2,1261.0 L1588.1,1261.0 L1597.9,1261.0 L1607.8,1261.0 L1617.6,1261.0 L1627.5,1261.0 L1637.3,1261.0 L1647.2,1261.0 L1657.0,1261.0" stroke="#e6cce6"/>
<path d="M189.0,1103.0 L190.9,1106.1 L193.9,1107.9 L196.8,1109.2 L199.7,1110.0 L202.5,1110.4 L205.2,1110.4 L207.9,1110.1 L210.5,1109.4 L213.1,1108.5 L215.6,1107.2 L218.1,1105.8 L220.4,1104.2 L222.8,1102.4 L225.0,1100.5 L227.2,1098.5 L229.3,1096.5 L231.3,1094.3 L233.3,1092.2 L235.2,1089.9 L237.1,1087.6 L238.9,1085.3 L240.6,1082.9 L242.3,1080.4 L244.0,1078.0 L245.6,1075.4 L247.2,1072.9 L248.8,1070.3 L250.3,1067.7 L251.8,1065.0 L253.2,1062.3 L254.6,1059.7 L256.1,1057.0 L257.4,1054.2 L258.8,1051.5 L260.2,1048.8 L261.5,1046.1 L262.9,1043.3 L264.2,1040.6 L265.5,1037.9 L266.8,1035.1 L268.1,1032.4 L269.4,1029.7 L270.7,1026.9 L272.0,1024.2 L273.3,1021.5 L274.5,1018.7 L275.8,1016.0 L277.1,1013.2 L278.3,1010.5 L279.5,1007.8 L280.8,1005.0 L282.0,1002.3 L283.2,999.5 L284.4,996.8 L285.6,994.0 L286.8,991.3 L288.0,988.5 L289.2,985.8 L290.4,983.0 L291.6,980.3 L292.8,977.5 L294.0,974.8 L295.2,972.0 L296.4,969.3 L297.5,966.5 L298.7,963.8 L299.9,961.0 L301.0,958.3 L302.2,955.5 L303.4,952.8 L304.5,950.0 L305.7,947.3 L306.9,944.5 L308.0,941.8 L309.2,939.0 L310.4,936.3 L311.6,933.6 L312.7,930.8 L313.9,928.1 L315.1,925.3 L316.2,922.6 L317.4,919.8 L318.6,917.1 L319.8,914.3 L321.0,911.6 L322.2,908.8 L323.4,906.1 L324.5,903.4 L325.7,900.6 L326.9,897.9 L328.1,895.1 L329.3,892.4 L330.5,889.7 L331.7,886.9 L332.9,884.2 L334.1,881.4 L335.3,878.7 L336.5,875.9 L337.7,873.2 L338.9,870.5 L340.1,867.7 L341.2,865.0 L342.4,862.2 L343.6,859.5 L344.7,856.8 L345.9,854.0 L347.1,851.3 L348.2,848.5 L349.4,845.8 L350.5,843.1 L351.7,840.3 L352.9,837.6 L354.1,834.8 L355.3,832.1 L356.5,829.4 L357.8,826.6 L359.0,823.9 L360.3,821.1 L361.5,818.4 L362.8,815.7 L364.1,812.9 L365.3,810.2 L366.6,807.4 L367.9,804.7 L369.2,802.0 L370.5,799.2 L371.8,796.5 L373.1,793.7 L374.4,791.0 L375.7,788.2 L377.0,785.5 L378.3,782.8 L379.6,780.0 L380.9,777.3 L382.2,774.5 L383.4,771.8 L384.7,769.0 L386.0,766.3 L387.2,763.5 L388.5,760.8 L389.7,758.0 L391.0,755.3 L392.2,752.6 L393.4,749.8 L394.6,747.1 L395.8,744.3 L397.0,741.6 L398.2,738.8 L399.3,736.1 L400.5,733.3 L401.6,730.6 L402.7,727.8 L403.9,725.1 L405.0,722.3 L406.1,719.6 L407.2,716.8 L408.3,714.1 L409.4,711.3 L410.5,708.5 L411.6,705.8 L412.6,703.0 L413.7,700.3 L414.8,697.5 L415.9,694.8 L417.0,692.1 L418.1,689.3 L419.2,686.6 L420.3,683.8 L421.5,681.1 L422.6,678.3 L423.7,675.6 L424.9,672.8 L426.0,670.1 L427.2,667.3 L428.4,664.6 L429.6,661.9 L430.8,659.1 L432.0,656.4 L433.3,653.7 L434.5,650.9 L435.8,648.2 L437.1,645.5 L438.4,642.7 L439.8,640.0 L441.1,637.3 L442.5,634.5 L443.9,631.8 L445.3,629.1 L446.8,626.4 L448.2,623.7 L449.6,621.0 L451.1,618.3 L452.5,615.6 L454.0,612.9 L455.4,610.2 L456.9,607.6 L458.3,604.9 L459.8,602.3 L461.2,599.6 L462.7,597.0 L464.2,594.4 L465.6,591.8 L467.1,589.2 L468.6,586.6 L470.1,584.0 L471.6,581.5 L473.2,578.9 L474.7,576.4 L476.3,573.9 L477.9,571.4 L479.5,569.0 L481.1,566.5 L482.8,564.1 L484.4,561.7 L486.2,559.3 L487.9,556.9 L489.7,554.6 L491.5,552.2 L493.3,549.9 L495.2,547.6 L497.1,545.4 L499.0,543.2 L501.0,540.9 L503.0,538.8 L505.1,536.6 L507.2,534.5 L509.3,532.3 L511.4,530.2 L513.6,528.2 L515.9,526.1 L518.1,524.1 L520.4,522.1 L522.7,520.1 L525.1,518.2 L527.4,516.3 L529.8,514.4 L532.3,512.5 L534.7,510.6 L537.2,508.8 L539.7,507.1 L542.3,505.4 L544.9,503.7 L547.5,502.1 L550.1,500.6 L552.8,499.2 L555.5,497.9 L558.2,496.6 L561.0,495.5 L563.8,494.4 L566.6,493.5 L569.5,492.7 L572.4,492.0 L575.3,491.4 L578.2,491.0 L581.1,490.8 L584.0,490.6 L586.9,490.7 L589.8,490.9 L592.6,491.3 L595.5,491.8 L598.2,492.6 L601.0,493.5 L603.7,494.5 L606.3,495.7 L608.8,497.1 L611.3,498.6 L613.7,500.2 L616.0,502.0 L618.3,503.9 L620.4,505.9 L622.5,508.0 L624.5,510.2 L626.5,512.5 L628.3,514.9 L630.1,517.4 L631.9,519.9 L633.5,522.5 L635.2,525.1 L636.7,527.8 L638.2,530.5 L639.7,533.3 L641.1,536.0 L642.5,538.8 L643.9,541.6 L645.2,544.4 L646.4,547.2 L647.6,550.0 L648.8,552.8 L650.0,555.6 L651.1,558.4 L652.2,561.2 L653.2,564.0 L654.2,566.9 L655.2,569.7 L656.1,572.5 L657.0,575.4 L657.9,578.3 L658.7,581.1 L659.5,584.0 L660.3,586.9 L661.0,589.7 L661.7,592.6 L662.4,595.5 L663.0,598.4 L663.6,601.3 L664.2,604.2 L664.8,607.1 L665.3,610.0 L665.8,612.9 L666.3,615.8 L666.8,618.7 L667.2,621.7 L667.6,624.6 L668.0,627.5 L668.4,630.5 L668.7,633.4 L669.1,636.3 L669.4,639.3 L669.7,642.2 L670.0,645.2 L670.2,648.1 L670.5,651.1 L670.8,654.1 L671.0,657.0 L671.2,660.0 L671.5,662.9 L671.7,665.9 L672.0,668.9 L672.3,671.8 L672.6,674.8 L672.9,677.8 L673.2,680.8 L673.5,683.7 L673.9,686.7 L674.3,689.7 L674.7,692.7 L675.1,695.7 L675.6,698.6 L676.1,701.6 L676.6,704.6 L677.1,707.6 L677.6,710.6 L678.2,713.5 L678.7,716.5 L679.3,719.5 L679.9,722.5 L680.5,725.5 L681.1,728.5 L681.6,731.4 L682.2,734.4 L682.8,737.4 L683.4,740.4 L683.9,743.4 L684.5,746.3 L685.0,749.3 L685.6,752.3 L686.1,755.3 L686.6,758.2 L687.1,761.2 L687.6,764.2 L688.1,767.1 L688.6,770.1 L689.1,773.1 L689.6,776.0 L690.1,779.0 L690.5,782.0 L691.0,784.9 L691.4,787.9 L691.9,790.9 L692.3,793.8 L692.8,796.8 L693.2,799.7 L693.7,802.7 L694.1,805.7 L694.5,808.6 L695.0,811.6 L695.4,814.5 L695.8,817.5 L696.2,820.5 L696.7,823.4 L697.1,826.4 L697.5,829.3 L697.9,832.3 L698.4,835.2 L698.8,838.2 L699.2,841.1 L699.6,844.1 L700.1,847.1 L700.5,850.0 L700.9,853.0 L701.4,855.9 L701.8,858.9 L702.2,861.8 L702.7,864.8 L703.1,867.7 L703.6,870.7 L704.0,873.6 L704.5,876.6 L704.9,879.5 L705.4,882.5 L705.8,885.5 L706.3,888.4 L706.7,891.4 L707.2,894.3 L707.7,897.3 L708.1,900.2 L708.6,903.2 L709.1,906.1 L709.5,909.1 L710.0,912.0 L710.5,915.0 L711.0,918.0 L711.4,920.9 L711.9,923.9 L712.4,926.8 L712.9,929.8 L713.4,932.7 L713.9,935.7 L714.3,938.7 L714.8,941.6 L715.3,944.6 L715.8,947.5 L716.3,950.5 L716.8,953.5 L717.3,956.4 L717.8,959.4 L718.3,962.4 L718.8,965.3 L719.3,968.3 L719.8,971.3 L720.3,974.2 L720.8,977.2 L721.3,980.2 L721.8,983.1 L722.3,986.1 L722.8,989.1 L723.3,992.0 L723.8,995.0 L724.3,997.9 L724.8,1000.9 L725.4,1003.9 L725.9,1006.8 L726.4,1009.8 L726.9,1012.8 L727.5,1015.7 L728.0,1018.7 L728.6,1021.7 L729.1,1024.6 L729.6,1027.6 L730.2,1030.5 L730.8,1033.5 L731.3,1036.4 L731.9,1039.4 L732.4,1042.4 L733.0,1045.3 L733.6,1048.3 L734.2,1051.2 L734.8,1054.1 L735.3,1057.1 L735.9,1060.0 L736.5,1063.0 L737.1,1065.9 L737.8,1068.8 L738.4,1071.8 L739.0,1074.7 L739.6,1077.6 L740.3,1080.6 L740.9,1083.5 L741.5,1086.4 L742.2,1089.3 L742.9,1092.2 L743.5,1095.2 L744.2,1098.1 L744.9,1101.0 L745.6,1103.9 L746.3,1106.8 L747.0,1109.7 L747.8,1112.6 L748.5,1115.5 L749.3,1118.4 L750.0,1121.2 L750.8,1124.1 L751.6,1127.0 L752.4,1129.9 L753.3,1132.7 L754.1,1135.6 L755.0,1138.5 L755.9,1141.3 L756.8,1144.2 L757.7,1147.0 L758.6,1149.9 L759.5,1152.7 L760.5,1155.6 L761.5,1158.4 L762.5,1161.2 L763.5,1164.0 L764.6,1166.9 L765.7,1169.7 L766.8,1172.5 L767.9,1175.3 L769.0,1178.1 L770.2,1180.9 L771.4,1183.7 L772.6,1186.4 L773.8,1189.2 L775.1,1192.0 L776.4,1194.7 L777.7,1197.5 L779.1,1200.2 L780.5,1202.9 L781.9,1205.5 L783.4,1208.2 L785.0,1210.8 L786.6,1213.3 L788.2,1215.8 L789.9,1218.3 L791.6,1220.7 L793.5,1223.0 L795.3,1225.3 L797.3,1227.5 L799.3,1229.6 L801.4,1231.7 L803.5,1233.7 L805.8,1235.6 L808.1,1237.5 L810.5,1239.3 L812.9,1240.9 L815.4,1242.6 L817.9,1244.1 L820.5,1245.6 L823.2,1246.9 L825.9,1248.2 L828.6,1249.5 L831.4,1250.6 L834.2,1251.7 L837.0,1252.7 L839.9,1253.6 L842.8,1254.4 L845.7,1255.2 L848.6,1255.9 L851.5,1256.5 L854.5,1257.1 L857.4,1257.6 L860.4,1258.0 L863.4,1258.4 L866.4,1258.7 L869.4,1259.0 L872.4,1259.2 L875.4,1259.4 L878.4,1259.6 L881.4,1259.7 L884.4,1259.8 L887.4,1259.9 L890.5,1260.0 L893.5,1260.0 L896.5,1260.1 L899.5,1260.2 L902.5,1260.2 L905.5,1260.3 L908.5,1260.3 L911.5,1260.4 L914.5,1260.5 L917.5,1260.5 L920.5,1260.6 L923.5,1260.6 L926.4,1260.7 L929.4,1260.7 L932.4,1260.8 L935.4,1260.8 L938.4,1260.9 L941.4,1260.9 L944.4,1260.9 L947.3,1261.0 L950.3,1261.0 L951.4,1260.9 L960.0,1261.0 L970.0,1261.0 L979.9,1261.0 L989.9,1261.0 L999.8,1261.0 L1009.8,1261.0 L1019.7,1261.0 L1029.7,1261.0 L1039.7,1261.0 L1049.6,1261.0 L1059.6,1261.0 L1069.5,1261.0 L1079.5,1261.0 L1089.4,1261.0 L1099.4,1261.0 L1109.4,1261.0 L1119.3,1261.0 L1129.3,1261.0 L1139.2,1261.0 L1149.2,1261.0 L1159.1,1261.0 L1169.1,1261.0 L1179.1,1261.0 L1189.0,1261.0 L1199.0,1261.0 L1208.9,1261.0 L1218.9,1261.0 L1228.8,1261.0 L1238.8,1261.0 L1248.8,1261.0 L1258.7,1261.0 L1268.7,1261.0 L1278.6,1261.0 L1288.6,1261.0 L1298.5,1261.0 L1308.5,1261.0 L1318.5,1261.0 L1328.4,1261.0 L1338.4,1261.0 L1348.3,1261.0 L1358.3,1261.0 L1368.2,1261.0 L1378.2,1261.0 L1388.2,1261.0 L1398.1,1261.0 L1408.1,1261.0 L1418.0,1261.0 L1428.0,1261.0 L1437.9,1261.0 L1447.9,1261.0 L1457.9,1261.0 L1467.8,1261.0 L1477.8,1261.0 L1487.7,1261.0 L1497.7,1261.0 L1507.6,1261.0 L1517.6,1261.0 L1527.6,1261.0 L1537.5,1261.0 L1547.5,1261.0 L1557.4,1261.0 L1567.4,1261.0 L1577.3,1261.0 L1587.3,1261.0 L1597.3,1261.0 L1607.2,1261.0 L1617.2,1261.0 L1627.1,1261.0 L1637.1,1261.0 L1647.0,1261.0 L1657.0,1261.0" stroke="#99cc99"/>
<path d="M189.0,824.0 L190.8,821.9 L192.4,819.8 L194.2,817.6 L196.1,815.2 L198.1,812.8 L200.3,810.3 L202.6,807.7 L205.0,805.2 L207.5,803.0 L210.0,801.3 L212.7,800.2 L215.3,799.8 L218.0,800.1 L220.5,800.9 L222.9,802.2 L225.1,803.9 L227.1,806.0 L228.9,808.3 L230.6,810.7 L232.2,813.3 L233.7,815.9 L235.2,818.5 L236.6,821.1 L238.0,823.7 L239.4,826.4 L240.7,829.0 L242.0,831.6 L243.3,834.2 L244.7,836.8 L246.0,839.5 L247.3,842.1 L248.7,844.8 L250.0,847.5 L251.4,850.2 L252.7,852.9 L254.1,855.6 L255.4,858.3 L256.7,861.1 L258.0,863.8 L259.3,866.6 L260.5,869.5 L261.7,872.3 L263.0,875.1 L264.2,877.9 L265.5,880.6 L266.9,883.3 L268.3,886.0 L269.9,888.5 L271.5,891.0 L273.3,893.3 L275.2,895.6 L277.3,897.7 L279.5,899.6 L281.9,901.4 L284.4,903.0 L287.0,904.4 L289.7,905.6 L292.5,906.6 L295.3,907.3 L298.1,907.8 L301.0,908.0 L303.9,908.0 L306.8,907.8 L309.7,907.5 L312.6,907.1 L315.5,906.7 L318.4,906.5 L321.3,906.4 L324.1,906.5 L326.9,906.9 L329.7,907.6 L332.5,908.6 L335.2,909.7 L337.9,911.1 L340.5,912.7 L343.0,914.4 L345.5,916.3 L348.0,918.2 L350.4,920.2 L352.7,922.3 L354.9,924.4 L357.1,926.5 L359.2,928.7 L361.3,931.0 L363.3,933.2 L365.2,935.5 L367.1,937.9 L368.9,940.3 L370.7,942.7 L372.5,945.1 L374.1,947.6 L375.8,950.1 L377.4,952.6 L379.0,955.2 L380.5,957.8 L382.0,960.3 L383.4,962.9 L384.9,965.6 L386.3,968.2 L387.6,970.8 L389.0,973.5 L390.3,976.1 L391.6,978.8 L392.9,981.4 L394.2,984.1 L395.5,986.8 L396.7,989.4 L398.0,992.1 L399.3,994.8 L400.6,997.5 L401.9,1000.1 L403.2,1002.8 L404.5,1005.5 L405.9,1008.1 L407.3,1010.8 L408.8,1013.4 L410.3,1016.1 L411.8,1018.7 L413.4,1021.4 L415.1,1024.0 L416.8,1026.5 L418.5,1029.1 L420.4,1031.5 L422.3,1034.0 L424.3,1036.3 L426.3,1038.5 L428.5,1040.7 L430.8,1042.7 L433.1,1044.7 L435.5,1046.5 L438.0,1048.1 L440.6,1049.6 L443.3,1050.9 L445.9,1052.0 L448.6,1052.9 L451.4,1053.6 L454.1,1054.1 L456.9,1054.3 L459.6,1054.2 L462.4,1053.8 L465.1,1053.2 L467.8,1052.3 L470.4,1051.1 L473.1,1049.8 L475.7,1048.2 L478.2,1046.5 L480.8,1044.7 L483.3,1042.8 L485.7,1040.9 L488.2,1038.9 L490.6,1036.9 L492.9,1034.8 L495.2,1032.8 L497.5,1030.8 L499.8,1028.7 L502.0,1026.6 L504.2,1024.5 L506.3,1022.4 L508.4,1020.2 L510.5,1018.1 L512.5,1015.9 L514.5,1013.7 L516.5,1011.5 L518.4,1009.2 L520.3,1007.0 L522.2,1004.7 L524.0,1002.4 L525.8,1000.0 L527.6,997.7 L529.3,995.3 L531.0,992.9 L532.7,990.4 L534.4,988.0 L536.0,985.5 L537.6,983.0 L539.1,980.4 L540.7,977.9 L542.2,975.3 L543.7,972.7 L545.1,970.1 L546.6,967.5 L548.0,964.8 L549.4,962.2 L550.8,959.5 L552.2,956.8 L553.6,954.1 L555.0,951.5 L556.3,948.8 L557.7,946.0 L559.0,943.3 L560.3,940.6 L561.7,937.9 L563.0,935.2 L564.3,932.5 L565.6,929.8 L567.0,927.1 L568.3,924.4 L569.7,921.7 L571.0,919.0 L572.3,916.3 L573.7,913.6 L575.1,910.9 L576.4,908.3 L577.8,905.6 L579.1,902.9 L580.5,900.3 L581.9,897.6 L583.2,894.9 L584.6,892.3 L586.0,889.6 L587.3,887.0 L588.7,884.3 L590.0,881.6 L591.4,879.0 L592.7,876.3 L594.1,873.6 L595.4,871.0 L596.7,868.3 L598.1,865.6 L599.4,863.0 L600.7,860.3 L602.0,857.6 L603.3,854.9 L604.6,852.2 L605.9,849.5 L607.2,846.8 L608.5,844.1 L609.7,841.3 L611.0,838.6 L612.2,835.9 L613.4,833.1 L614.6,830.4 L615.9,827.6 L617.0,824.8 L618.2,822.1 L619.4,819.3 L620.6,816.5 L621.7,813.8 L622.9,811.0 L624.0,808.2 L625.1,805.4 L626.2,802.6 L627.3,799.8 L628.4,797.0 L629.5,794.2 L630.5,791.3 L631.6,788.5 L632.6,785.7 L633.6,782.9 L634.6,780.1 L635.6,777.2 L636.6,774.4 L637.6,771.6 L638.5,768.7 L639.5,765.9 L640.4,763.0 L641.3,760.2 L642.3,757.3 L643.2,754.5 L644.1,751.6 L645.0,748.8 L645.9,745.9 L646.8,743.1 L647.7,740.2 L648.6,737.4 L649.5,734.5 L650.3,731.7 L651.2,728.8 L652.1,726.0 L653.0,723.1 L653.9,720.3 L654.8,717.4 L655.7,714.6 L656.6,711.7 L657.6,708.9 L658.5,706.0 L659.4,703.1 L660.3,700.3 L661.2,697.4 L662.1,694.6 L663.0,691.7 L663.9,688.8 L664.8,686.0 L665.7,683.1 L666.6,680.2 L667.5,677.4 L668.4,674.5 L669.3,671.6 L670.2,668.7 L671.0,665.8 L671.9,663.0 L672.8,660.1 L673.6,657.2 L674.5,654.3 L675.3,651.4 L676.1,648.4 L676.9,645.5 L677.7,642.6 L678.5,639.7 L679.3,636.8 L680.1,633.9 L681.0,631.0 L681.8,628.1 L682.6,625.2 L683.5,622.4 L684.4,619.6 L685.3,616.8 L686.2,614.0 L687.2,611.3 L688.2,608.6 L689.3,605.9 L690.4,603.3 L691.6,600.7 L692.7,598.2 L693.9,595.7 L695.0,593.2 L696.1,590.6 L697.2,588.0 L698.2,585.3 L699.1,582.6 L700.1,579.9 L701.1,577.2 L702.1,574.4 L703.1,571.7 L704.2,568.9 L705.2,566.1 L706.2,563.3 L707.2,560.5 L708.3,557.7 L709.3,554.9 L710.3,552.1 L711.4,549.2 L712.4,546.4 L713.4,543.5 L714.4,540.7 L715.5,537.8 L716.5,535.0 L717.5,532.1 L718.5,529.3 L719.5,526.4 L720.4,523.5 L721.4,520.7 L722.4,517.8 L723.3,515.0 L724.2,512.1 L725.2,509.2 L726.1,506.4 L727.0,503.5 L727.9,500.7 L728.9,497.9 L729.8,495.0 L730.8,492.2 L731.8,489.4 L732.7,486.6 L733.8,483.8 L734.8,481.0 L735.9,478.3 L736.9,475.5 L738.1,472.8 L739.2,470.0 L740.4,467.3 L741.7,464.6 L743.0,461.9 L744.3,459.2 L745.7,456.6 L747.1,454.0 L748.6,451.4 L750.1,448.8 L751.7,446.2 L753.3,443.7 L755.0,441.3 L756.7,438.8 L758.5,436.4 L760.3,434.0 L762.2,431.7 L764.1,429.5 L766.1,427.2 L768.2,425.0 L770.3,422.9 L772.5,420.8 L774.7,418.8 L777.0,416.9 L779.4,415.0 L781.9,413.2 L784.5,411.6 L787.3,410.2 L790.2,409.0 L793.2,408.0 L796.5,407.3 L799.7,406.9 L803.0,406.9 L806.0,407.2 L808.9,407.8 L811.5,408.9 L813.9,410.3 L816.0,411.9 L818.1,413.9 L819.9,416.0 L821.7,418.2 L823.3,420.6 L824.9,423.1 L826.5,425.6 L828.0,428.1 L829.5,430.7 L830.9,433.3 L832.3,435.9 L833.6,438.6 L834.9,441.3 L836.2,444.0 L837.4,446.7 L838.6,449.5 L839.8,452.2 L840.9,455.0 L842.0,457.8 L843.1,460.7 L844.2,463.5 L845.2,466.4 L846.2,469.2 L847.1,472.1 L848.1,475.0 L849.0,477.9 L849.9,480.8 L850.7,483.7 L851.6,486.6 L852.4,489.5 L853.2,492.5 L854.0,495.4 L854.7,498.3 L855.5,501.2 L856.2,504.2 L856.9,507.1 L857.6,510.0 L858.3,512.9 L858.9,515.9 L859.6,518.8 L860.2,521.7 L860.9,524.6 L861.5,527.6 L862.1,530.5 L862.7,533.4 L863.3,536.4 L863.9,539.3 L864.5,542.2 L865.1,545.2 L865.7,548.1 L866.3,551.0 L866.8,554.0 L867.4,556.9 L868.0,559.8 L868.6,562.8 L869.1,565.7 L869.7,568.6 L870.3,571.6 L870.8,574.5 L871.4,577.5 L871.9,580.4 L872.5,583.3 L873.0,586.3 L873.6,589.2 L874.1,592.2 L874.7,595.1 L875.2,598.0 L875.8,601.0 L876.3,603.9 L876.9,606.9 L877.4,609.8 L878.0,612.8 L878.5,615.7 L879.0,618.7 L879.6,621.6 L880.1,624.6 L880.6,627.5 L881.2,630.5 L881.7,633.4 L882.2,636.4 L882.7,639.3 L883.3,642.3 L883.8,645.2 L884.3,648.2 L884.8,651.1 L885.4,654.1 L885.9,657.0 L886.4,660.0 L886.9,663.0 L887.4,665.9 L887.9,668.9 L888.5,671.8 L889.0,674.8 L889.5,677.7 L890.0,680.7 L890.5,683.7 L891.0,686.6 L891.6,689.6 L892.1,692.5 L892.6,695.5 L893.1,698.4 L893.6,701.4 L894.1,704.4 L894.6,707.3 L895.1,710.3 L895.6,713.2 L896.1,716.2 L896.6,719.2 L897.2,722.1 L897.7,725.1 L898.2,728.1 L898.7,731.0 L899.2,734.0 L899.7,736.9 L900.2,739.9 L900.7,742.9 L901.2,745.8 L901.7,748.8 L902.2,751.8 L902.7,754.7 L903.2,757.7 L903.7,760.6 L904.2,763.6 L904.6,766.6 L905.1,769.5 L905.6,772.5 L906.1,775.5 L906.6,778.4 L907.1,781.4 L907.6,784.3 L908.1,787.3 L908.6,790.3 L909.1,793.2 L909.5,796.2 L910.0,799.2 L910.5,802.1 L911.0,805.1 L911.5,808.0 L912.0,811.0 L912.4,814.0 L912.9,816.9 L913.4,819.9 L913.9,822.9 L914.3,825.8 L914.8,828.8 L915.3,831.7 L915.8,834.7 L916.2,837.7 L916.7,840.6 L917.2,843.6 L917.7,846.5 L918.1,849.5 L918.6,852.5 L919.1,855.4 L919.6,858.4 L920.0,861.3 L920.5,864.3 L921.0,867.3 L921.5,870.2 L922.0,873.2 L922.4,876.1 L922.9,879.1 L923.4,882.0 L923.9,885.0 L924.4,888.0 L924.9,890.9 L925.4,893.9 L925.9,896.8 L926.4,899.8 L926.9,902.7 L927.4,905.7 L927.9,908.6 L928.4,911.6 L928.9,914.5 L929.4,917.5 L929.9,920.4 L930.5,923.4 L931.0,926.3 L931.5,929.3 L932.1,932.2 L932.6,935.2 L933.1,938.1 L933.7,941.1 L934.2,944.0 L934.8,947.0 L935.3,949.9 L935.9,952.9 L936.4,955.8 L937.0,958.7 L937.6,961.7 L938.1,964.6 L938.7,967.6 L939.3,970.5 L939.9,973.4 L940.5,976.4 L941.0,979.3 L941.6,982.2 L942.2,985.2 L942.8,988.1 L943.4,991.0 L944.0,994.0 L944.5,996.9 L945.1,999.8 L945.7,1002.8 L946.3,1005.7 L946.9,1008.6 L947.4,1011.5 L948.0,1014.5 L948.6,1017.4 L949.2,1020.3 L949.8,1023.2 L950.4,1026.2 L951.0,1029.1 L951.7,1032.0 L952.3,1034.9 L953.0,1037.8 L953.6,1040.8 L954.3,1043.7 L955.1,1046.6 L955.8,1049.5 L956.5,1052.4 L957.3,1055.3 L958.1,1058.2 L958.9,1061.1 L959.7,1064.1 L960.5,1067.0 L961.3,1069.9 L962.1,1072.8 L963.0,1075.7 L963.8,1078.6 L964.7,1081.5 L965.6,1084.4 L966.5,1087.3 L967.4,1090.2 L968.3,1093.1 L969.2,1095.9 L970.1,1098.8 L971.0,1101.7 L971.9,1104.6 L972.9,1107.5 L973.8,1110.4 L974.7,1113.3 L975.7,1116.2 L976.6,1119.0 L977.6,1121.9 L978.6,1124.8 L979.6,1127.6 L980.6,1130.5 L981.6,1133.3 L982.6,1136.2 L983.6,1139.0 L984.6,1141.8 L985.7,1144.6 L986.7,1147.4 L987.8,1150.2 L988.9,1153.0 L990.0,1155.8 L991.1,1158.6 L992.2,1161.3 L993.3,1164.1 L994.5,1166.8 L995.6,1169.5 L996.8,1172.2 L998.0,1174.9 L999.2,1177.6 L1000.5,1180.2 L1001.8,1182.8 L1003.1,1185.5 L1004.4,1188.1 L1005.8,1190.7 L1007.2,1193.2 L1008.6,1195.8 L1010.1,1198.3 L1011.6,1200.8 L1013.2,1203.3 L1014.8,1205.8 L1016.5,1208.2 L1018.2,1210.7 L1019.9,1213.1 L1021.8,1215.5 L1023.6,1217.8 L1025.6,1220.1 L1027.5,1222.5 L1029.6,1224.7 L1031.7,1227.0 L1033.9,1229.2 L1036.1,1231.4 L1038.4,1233.5 L1040.8,1235.5 L1043.2,1237.5 L1045.6,1239.4 L1048.1,1241.2 L1050.6,1242.9 L1053.2,1244.4 L1055.9,1245.9 L1058.5,1247.2 L1061.2,1248.3 L1064.0,1249.3 L1066.7,1250.2 L1069.5,1251.0 L1072.4,1251.7 L1075.2,1252.4 L1078.1,1253.0 L1081.0,1253.5 L1083.9,1254.1 L1086.9,1254.7 L1089.8,1255.3 L1092.8,1256.0 L1095.7,1256.7 L1098.7,1257.3 L1101.7,1258.0 L1104.7,1258.6 L1107.7,1259.1 L1110.7,1259.7 L1113.7,1260.1 L1116.7,1260.5 L1119.7,1260.8 L1122.7,1261.0 L1125.6,1261.1 L1128.6,1261.1 L1131.5,1261.0 L1134.4,1260.7 L1135.0,1261.0 L1144.8,1261.0 L1154.7,1261.0 L1164.5,1261.0 L1174.4,1261.0 L1184.2,1261.0 L1194.1,1261.0 L1203.9,1261.0 L1213.8,1261.0 L1223.6,1261.0 L1233.5,1261.0 L1243.3,1261.0 L1253.2,1261.0 L1263.0,1261.0 L1272.9,1261.0 L1282.7,1261.0 L1292.6,1261.0 L1302.4,1261.0 L1312.3,1261.0 L1322.1,1261.0 L1332.0,1261.0 L1341.8,1261.0 L1351.7,1261.0 L1361.5,1261.0 L1371.4,1261.0 L1381.2,1261.0 L1391.1,1261.0 L1400.9,1261.0 L1410.8,1261.0 L1420.6,1261.0 L1430.5,1261.0 L1440.3,1261.0 L1450.2,1261.0 L1460.0,1261.0 L1469.9,1261.0 L1479.7,1261.0 L1489.6,1261.0 L1499.4,1261.0 L1509.3,1261.0 L1519.1,1261.0 L1529.0,1261.0 L1538.8,1261.0 L1548.7,1261.0 L1558.5,1261.0 L1568.4,1261.0 L1578.2,1261.0 L1588.1,1261.0 L1597.9,1261.0 L1607.8,1261.0 L1617.6,1261.0 L1627.5,1261.0 L1637.3,1261.0 L1647.2,1261.0 L1657.0,1261.0" stroke="#cc99cc"/>
<path d="M189.0,1115.0 L191.1,1117.8 L193.8,1119.9 L196.5,1121.6 L199.3,1122.8 L202.1,1123.6 L204.8,1124.0 L207.6,1124.0 L210.3,1123.7 L213.1,1123.2 L215.7,1122.4 L218.4,1121.3 L221.0,1120.1 L223.5,1118.6 L225.9,1117.1 L228.3,1115.4 L230.5,1113.6 L232.7,1111.7 L234.9,1109.7 L236.9,1107.7 L238.9,1105.5 L240.9,1103.2 L242.7,1100.9 L244.6,1098.5 L246.3,1096.1 L248.0,1093.6 L249.7,1091.0 L251.3,1088.4 L252.9,1085.8 L254.5,1083.1 L256.0,1080.4 L257.4,1077.7 L258.9,1075.0 L260.3,1072.2 L261.7,1069.5 L263.1,1066.8 L264.5,1064.0 L265.8,1061.3 L267.2,1058.6 L268.5,1055.8 L269.8,1053.1 L271.1,1050.4 L272.3,1047.7 L273.6,1044.9 L274.8,1042.2 L276.1,1039.5 L277.3,1036.8 L278.5,1034.1 L279.8,1031.3 L281.0,1028.6 L282.2,1025.9 L283.4,1023.2 L284.6,1020.5 L285.8,1017.8 L287.0,1015.0 L288.3,1012.3 L289.5,1009.6 L290.7,1006.9 L291.9,1004.2 L293.1,1001.5 L294.4,998.7 L295.6,996.0 L296.8,993.3 L298.1,990.6 L299.3,987.9 L300.6,985.2 L301.8,982.4 L303.1,979.7 L304.3,977.0 L305.5,974.3 L306.8,971.6 L308.0,968.8 L309.3,966.1 L310.6,963.4 L311.8,960.7 L313.1,957.9 L314.3,955.2 L315.6,952.5 L316.8,949.8 L318.1,947.0 L319.3,944.3 L320.6,941.6 L321.9,938.8 L323.1,936.1 L324.4,933.4 L325.6,930.6 L326.9,927.9 L328.1,925.2 L329.4,922.4 L330.6,919.7 L331.9,917.0 L333.1,914.2 L334.4,911.5 L335.6,908.7 L336.9,906.0 L338.1,903.3 L339.3,900.5 L340.6,897.8 L341.8,895.0 L343.0,892.3 L344.3,889.6 L345.5,886.8 L346.7,884.1 L347.9,881.3 L349.1,878.6 L350.4,875.8 L351.6,873.1 L352.8,870.4 L354.0,867.6 L355.2,864.9 L356.4,862.1 L357.5,859.4 L358.7,856.6 L359.9,853.9 L361.1,851.2 L362.3,848.4 L363.4,845.7 L364.6,842.9 L365.8,840.2 L366.9,837.5 L368.1,834.7 L369.3,832.0 L370.5,829.2 L371.7,826.5 L372.8,823.8 L374.0,821.0 L375.2,818.3 L376.4,815.5 L377.6,812.8 L378.9,810.1 L380.1,807.3 L381.3,804.6 L382.6,801.9 L383.9,799.1 L385.1,796.4 L386.4,793.7 L387.7,790.9 L389.0,788.2 L390.3,785.5 L391.6,782.7 L392.9,780.0 L394.2,777.3 L395.5,774.6 L396.9,771.8 L398.2,769.1 L399.5,766.4 L400.8,763.7 L402.1,761.0 L403.4,758.2 L404.7,755.5 L406.0,752.8 L407.3,750.1 L408.6,747.4 L409.9,744.7 L411.2,741.9 L412.4,739.2 L413.7,736.5 L415.0,733.8 L416.2,731.1 L417.5,728.4 L418.7,725.7 L420.0,723.0 L421.2,720.3 L422.5,717.6 L423.7,714.9 L425.0,712.2 L426.2,709.5 L427.5,706.8 L428.7,704.0 L430.0,701.3 L431.2,698.6 L432.5,695.9 L433.7,693.2 L435.0,690.5 L436.2,687.8 L437.5,685.1 L438.8,682.4 L440.0,679.7 L441.3,677.0 L442.5,674.3 L443.8,671.5 L445.1,668.8 L446.4,666.1 L447.6,663.4 L448.9,660.7 L450.2,658.0 L451.5,655.2 L452.8,652.5 L454.1,649.8 L455.4,647.1 L456.8,644.3 L458.1,641.6 L459.4,638.9 L460.8,636.1 L462.1,633.4 L463.4,630.7 L464.8,628.0 L466.1,625.3 L467.5,622.5 L468.8,619.8 L470.2,617.2 L471.5,614.5 L472.9,611.8 L474.3,609.1 L475.6,606.5 L476.9,603.9 L478.3,601.2 L479.6,598.6 L481.0,596.0 L482.3,593.5 L483.7,590.9 L485.1,588.4 L486.5,585.9 L488.0,583.4 L489.6,580.9 L491.2,578.5 L492.8,576.0 L494.6,573.6 L496.4,571.3 L498.4,568.9 L500.4,566.6 L502.4,564.3 L504.5,562.1 L506.7,559.8 L508.9,557.6 L511.0,555.5 L513.2,553.4 L515.5,551.3 L517.7,549.2 L519.9,547.2 L522.2,545.2 L524.5,543.3 L526.7,541.3 L529.1,539.5 L531.4,537.6 L533.7,535.8 L536.1,534.0 L538.5,532.3 L540.9,530.6 L543.4,528.9 L545.9,527.3 L548.4,525.7 L550.9,524.1 L553.5,522.6 L556.1,521.1 L558.8,519.7 L561.4,518.3 L564.2,517.0 L566.9,515.7 L569.7,514.5 L572.5,513.5 L575.3,512.5 L578.2,511.7 L581.1,511.0 L584.0,510.4 L587.0,510.1 L590.0,509.9 L592.9,509.9 L595.9,510.1 L598.8,510.4 L601.7,511.0 L604.5,511.7 L607.3,512.7 L609.9,513.8 L612.5,515.0 L615.0,516.5 L617.4,518.1 L619.7,519.8 L622.0,521.6 L624.1,523.6 L626.2,525.7 L628.3,527.9 L630.2,530.1 L632.1,532.5 L633.9,534.9 L635.7,537.4 L637.4,539.9 L639.0,542.5 L640.6,545.1 L642.1,547.8 L643.5,550.4 L644.9,553.2 L646.2,555.9 L647.5,558.7 L648.8,561.5 L649.9,564.3 L651.1,567.2 L652.1,570.0 L653.2,572.9 L654.2,575.8 L655.1,578.7 L656.0,581.6 L656.9,584.5 L657.7,587.5 L658.5,590.4 L659.2,593.3 L659.9,596.2 L660.6,599.2 L661.2,602.1 L661.9,605.0 L662.4,607.9 L663.0,610.9 L663.5,613.8 L664.0,616.7 L664.5,619.7 L665.0,622.6 L665.4,625.5 L665.9,628.5 L666.3,631.4 L666.7,634.3 L667.1,637.3 L667.5,640.2 L667.8,643.2 L668.2,646.1 L668.5,649.0 L668.9,652.0 L669.2,654.9 L669.6,657.9 L669.9,660.8 L670.3,663.7 L670.7,666.7 L671.0,669.6 L671.4,672.6 L671.8,675.5 L672.1,678.5 L672.6,681.4 L673.0,684.4 L673.4,687.3 L673.8,690.3 L674.3,693.2 L674.8,696.2 L675.3,699.1 L675.8,702.1 L676.3,705.0 L676.8,708.0 L677.3,710.9 L677.9,713.9 L678.4,716.8 L679.0,719.8 L679.6,722.8 L680.1,725.7 L680.7,728.7 L681.3,731.6 L681.8,734.6 L682.4,737.5 L683.0,740.5 L683.6,743.5 L684.1,746.4 L684.7,749.4 L685.3,752.3 L685.8,755.3 L686.4,758.3 L687.0,761.2 L687.5,764.2 L688.1,767.1 L688.6,770.1 L689.2,773.1 L689.7,776.0 L690.3,779.0 L690.8,782.0 L691.4,784.9 L691.9,787.9 L692.4,790.8 L692.9,793.8 L693.5,796.8 L694.0,799.7 L694.5,802.7 L695.0,805.7 L695.5,808.6 L696.0,811.6 L696.5,814.6 L697.0,817.5 L697.5,820.5 L698.0,823.5 L698.4,826.4 L698.9,829.4 L699.4,832.4 L699.9,835.3 L700.3,838.3 L700.8,841.2 L701.3,844.2 L701.7,847.2 L702.2,850.1 L702.6,853.1 L703.1,856.1 L703.5,859.0 L704.0,862.0 L704.5,865.0 L704.9,867.9 L705.4,870.9 L705.8,873.9 L706.2,876.8 L706.7,879.8 L707.1,882.8 L707.6,885.7 L708.0,888.7 L708.5,891.6 L708.9,894.6 L709.4,897.6 L709.8,900.5 L710.2,903.5 L710.7,906.5 L711.1,909.4 L711.6,912.4 L712.0,915.3 L712.5,918.3 L712.9,921.3 L713.4,924.2 L713.8,927.2 L714.3,930.1 L714.7,933.1 L715.2,936.1 L715.6,939.0 L716.1,942.0 L716.6,944.9 L717.0,947.9 L717.5,950.9 L718.0,953.8 L718.5,956.8 L718.9,959.7 L719.4,962.7 L719.9,965.6 L720.4,968.6 L720.9,971.5 L721.4,974.5 L721.9,977.4 L722.4,980.4 L722.9,983.3 L723.4,986.3 L723.9,989.2 L724.4,992.2 L724.9,995.1 L725.4,998.1 L726.0,1001.0 L726.5,1004.0 L727.1,1006.9 L727.6,1009.9 L728.2,1012.8 L728.7,1015.8 L729.3,1018.7 L729.8,1021.7 L730.4,1024.6 L731.0,1027.5 L731.6,1030.5 L732.2,1033.4 L732.8,1036.4 L733.4,1039.3 L734.0,1042.2 L734.6,1045.2 L735.2,1048.1 L735.8,1051.1 L736.5,1054.0 L737.1,1056.9 L737.7,1059.9 L738.4,1062.8 L739.0,1065.7 L739.6,1068.7 L740.3,1071.6 L741.0,1074.5 L741.6,1077.5 L742.3,1080.4 L742.9,1083.3 L743.6,1086.3 L744.3,1089.2 L745.0,1092.1 L745.7,1095.0 L746.3,1098.0 L747.0,1100.9 L747.7,1103.8 L748.4,1106.8 L749.1,1109.7 L749.8,1112.6 L750.5,1115.5 L751.2,1118.5 L751.9,1121.4 L752.6,1124.3 L753.4,1127.2 L754.1,1130.2 L754.8,1133.1 L755.6,1136.0 L756.3,1138.9 L757.1,1141.8 L757.8,1144.7 L758.6,1147.6 L759.4,1150.5 L760.3,1153.4 L761.1,1156.2 L762.0,1159.1 L762.9,1162.0 L763.8,1164.8 L764.8,1167.6 L765.8,1170.4 L766.8,1173.2 L767.9,1176.0 L769.0,1178.8 L770.1,1181.5 L771.3,1184.2 L772.5,1187.0 L773.8,1189.6 L775.1,1192.3 L776.5,1195.0 L777.9,1197.6 L779.4,1200.2 L780.9,1202.8 L782.5,1205.3 L784.1,1207.9 L785.8,1210.4 L787.6,1212.8 L789.4,1215.3 L791.3,1217.7 L793.2,1220.1 L795.2,1222.4 L797.3,1224.7 L799.4,1226.9 L801.6,1229.1 L803.8,1231.2 L806.1,1233.2 L808.4,1235.2 L810.7,1237.1 L813.1,1238.9 L815.6,1240.6 L818.1,1242.2 L820.6,1243.8 L823.2,1245.2 L825.8,1246.6 L828.4,1247.8 L831.1,1249.0 L833.8,1250.0 L836.5,1251.0 L839.3,1251.9 L842.1,1252.8 L844.9,1253.5 L847.7,1254.2 L850.6,1254.9 L853.5,1255.5 L856.4,1256.0 L859.3,1256.5 L862.2,1256.9 L865.2,1257.3 L868.1,1257.7 L871.1,1258.0 L874.1,1258.3 L877.1,1258.6 L880.1,1258.9 L883.1,1259.1 L886.1,1259.3 L889.2,1259.5 L892.2,1259.6 L895.2,1259.8 L898.3,1259.9 L901.3,1260.0 L904.4,1260.1 L907.4,1260.2 L910.5,1260.3 L913.5,1260.3 L916.6,1260.4 L919.6,1260.4 L922.7,1260.4 L925.7,1260.4 L928.7,1260.5 L931.8,1260.5 L934.8,1260.5 L937.8,1260.5 L940.8,1260.5 L943.8,1260.5 L946.8,1260.6 L949.8,1260.6 L952.7,1260.6 L955.7,1260.7 L958.6,1260.7 L961.5,1260.8 L964.4,1260.8 L967.3,1260.9 L970.2,1261.0 L972.9,1260.9 L981.5,1261.0 L991.5,1261.0 L1001.4,1261.0 L1011.4,1261.0 L1021.3,1261.0 L1031.3,1261.0 L1041.2,1261.0 L1051.2,1261.0 L1061.1,1261.0 L1071.1,1261.0 L1081.1,1261.0 L1091.0,1261.0 L1101.0,1261.0 L1110.9,1261.0 L1120.9,1261.0 L1130.8,1261.0 L1140.8,1261.0 L1150.8,1261.0 L1160.7,1261.0 L1170.7,1261.0 L1180.6,1261.0 L1190.6,1261.0 L1200.5,1261.0 L1210.5,1261.0 L1220.4,1261.0 L1230.4,1261.0 L1240.4,1261.0 L1250.3,1261.0 L1260.3,1261.0 L1270.2,1261.0 L1280.2,1261.0 L1290.1,1261.0 L1300.1,1261.0 L1310.0,1261.0 L1320.0,1261.0 L1330.0,1261.0 L1339.9,1261.0 L1349.9,1261.0 L1359.8,1261.0 L1369.8,1261.0 L1379.7,1261.0 L1389.7,1261.0 L1399.6,1261.0 L1409.6,1261.0 L1419.6,1261.0 L1429.5,1261.0 L1439.5,1261.0 L1449.4,1261.0 L1459.4,1261.0 L1469.3,1261.0 L1479.3,1261.0 L1489.2,1261.0 L1499.2,1261.0 L1509.2,1261.0 L1519.1,1261.0 L1529.1,1261.0 L1539.0,1261.0 L1549.0,1261.0 L1558.9,1261.0 L1568.9,1261.0 L1578.9,1261.0 L1588.8,1261.0 L1598.8,1261.0 L1608.7,1261.0 L1618.7,1261.0 L1628.6,1261.0 L1638.6,1261.0 L1648.5,1261.0 L1658.5,1261.0" stroke="#66b366"/>
<path d="M189.0,842.0 L191.2,840.4 L193.7,838.1 L196.3,835.9 L198.9,833.8 L201.5,831.9 L204.2,830.4 L206.8,829.1 L209.5,828.3 L212.1,827.8 L214.8,827.9 L217.4,828.3 L219.9,829.1 L222.4,830.2 L224.8,831.6 L227.1,833.2 L229.4,835.1 L231.5,837.1 L233.6,839.2 L235.5,841.4 L237.3,843.8 L239.0,846.2 L240.7,848.6 L242.3,851.1 L243.8,853.7 L245.2,856.4 L246.7,859.0 L248.0,861.7 L249.4,864.5 L250.8,867.2 L252.1,869.9 L253.5,872.7 L254.9,875.4 L256.3,878.1 L257.8,880.8 L259.3,883.4 L260.8,886.1 L262.4,888.6 L264.1,891.2 L265.8,893.6 L267.6,896.1 L269.4,898.5 L271.3,900.9 L273.3,903.2 L275.3,905.5 L277.4,907.7 L279.6,909.9 L281.8,911.9 L284.1,913.8 L286.5,915.5 L288.9,916.9 L291.4,918.0 L294.0,918.8 L296.7,919.3 L299.5,919.3 L302.3,919.2 L305.2,918.7 L308.1,918.2 L311.1,917.6 L314.1,916.9 L317.1,916.3 L320.1,915.8 L323.1,915.4 L326.1,915.3 L329.1,915.4 L332.1,915.7 L335.0,916.2 L337.9,916.8 L340.7,917.7 L343.5,918.7 L346.2,919.9 L348.8,921.2 L351.3,922.7 L353.7,924.3 L356.1,926.0 L358.3,927.9 L360.5,929.8 L362.6,931.9 L364.6,934.1 L366.6,936.4 L368.4,938.7 L370.2,941.2 L372.0,943.7 L373.7,946.2 L375.4,948.8 L377.0,951.5 L378.5,954.1 L380.0,956.9 L381.5,959.6 L382.9,962.3 L384.3,965.1 L385.7,967.8 L387.1,970.6 L388.4,973.3 L389.7,976.0 L391.0,978.7 L392.3,981.4 L393.6,984.0 L394.9,986.7 L396.2,989.3 L397.5,992.0 L398.8,994.6 L400.1,997.2 L401.4,999.8 L402.8,1002.4 L404.2,1005.0 L405.6,1007.5 L407.0,1010.1 L408.5,1012.7 L410.0,1015.2 L411.5,1017.8 L413.1,1020.3 L414.7,1022.8 L416.4,1025.4 L418.2,1027.9 L420.0,1030.4 L421.8,1032.9 L423.8,1035.4 L425.8,1037.8 L427.8,1040.2 L430.0,1042.4 L432.2,1044.5 L434.5,1046.5 L436.8,1048.2 L439.3,1049.8 L441.8,1051.2 L444.4,1052.3 L447.1,1053.2 L449.9,1053.9 L452.7,1054.3 L455.6,1054.4 L458.4,1054.4 L461.3,1054.1 L464.2,1053.6 L467.0,1052.8 L469.8,1051.9 L472.6,1050.7 L475.3,1049.4 L477.9,1047.9 L480.5,1046.2 L483.1,1044.5 L485.6,1042.6 L488.1,1040.7 L490.5,1038.8 L492.9,1036.8 L495.2,1034.8 L497.6,1032.8 L499.8,1030.9 L502.1,1028.9 L504.3,1027.0 L506.5,1025.1 L508.7,1023.1 L510.9,1021.1 L513.0,1019.2 L515.1,1017.1 L517.2,1015.1 L519.3,1013.0 L521.3,1010.9 L523.4,1008.7 L525.4,1006.5 L527.4,1004.3 L529.4,1002.0 L531.4,999.6 L533.3,997.3 L535.2,994.9 L537.0,992.5 L538.8,990.0 L540.6,987.5 L542.3,985.1 L544.0,982.5 L545.6,980.0 L547.2,977.4 L548.7,974.9 L550.2,972.3 L551.7,969.7 L553.1,967.1 L554.6,964.4 L556.0,961.8 L557.4,959.2 L558.8,956.6 L560.2,953.9 L561.6,951.3 L563.0,948.7 L564.4,946.1 L565.8,943.4 L567.3,940.8 L568.7,938.2 L570.1,935.6 L571.5,932.9 L572.9,930.3 L574.4,927.7 L575.8,925.1 L577.2,922.4 L578.6,919.8 L580.1,917.2 L581.5,914.5 L582.9,911.9 L584.3,909.3 L585.7,906.6 L587.1,904.0 L588.6,901.3 L590.0,898.7 L591.4,896.0 L592.8,893.4 L594.1,890.7 L595.5,888.0 L596.9,885.4 L598.3,882.7 L599.7,880.0 L601.0,877.3 L602.4,874.6 L603.7,871.9 L605.1,869.3 L606.4,866.6 L607.8,863.9 L609.1,861.1 L610.4,858.4 L611.7,855.7 L613.0,853.0 L614.3,850.3 L615.6,847.6 L616.9,844.8 L618.2,842.1 L619.4,839.4 L620.7,836.6 L621.9,833.9 L623.2,831.1 L624.4,828.4 L625.6,825.6 L626.8,822.9 L628.0,820.1 L629.2,817.4 L630.4,814.6 L631.5,811.8 L632.7,809.1 L633.9,806.3 L635.0,803.5 L636.1,800.7 L637.2,797.9 L638.3,795.2 L639.4,792.4 L640.5,789.6 L641.5,786.8 L642.6,784.0 L643.6,781.2 L644.7,778.3 L645.7,775.5 L646.7,772.7 L647.6,769.9 L648.6,767.1 L649.6,764.3 L650.5,761.4 L651.4,758.6 L652.4,755.8 L653.3,752.9 L654.2,750.1 L655.1,747.3 L655.9,744.4 L656.8,741.6 L657.7,738.7 L658.6,735.9 L659.4,733.0 L660.3,730.2 L661.2,727.3 L662.0,724.5 L662.9,721.6 L663.8,718.8 L664.6,715.9 L665.5,713.0 L666.4,710.2 L667.3,707.3 L668.1,704.4 L669.0,701.6 L669.9,698.7 L670.9,695.8 L671.8,693.0 L672.7,690.1 L673.6,687.2 L674.6,684.4 L675.5,681.5 L676.4,678.6 L677.4,675.8 L678.3,672.9 L679.3,670.0 L680.2,667.2 L681.2,664.3 L682.1,661.4 L683.1,658.6 L684.1,655.7 L685.0,652.8 L686.0,650.0 L686.9,647.1 L687.9,644.2 L688.9,641.4 L689.8,638.5 L690.8,635.7 L691.8,632.8 L692.7,629.9 L693.7,627.1 L694.7,624.2 L695.6,621.4 L696.6,618.5 L697.6,615.7 L698.6,612.9 L699.6,610.0 L700.5,607.2 L701.5,604.4 L702.5,601.5 L703.5,598.7 L704.6,595.9 L705.6,593.1 L706.6,590.3 L707.7,587.5 L708.7,584.7 L709.8,581.9 L710.8,579.1 L711.9,576.3 L713.0,573.5 L714.1,570.8 L715.3,568.0 L716.4,565.2 L717.5,562.5 L718.7,559.7 L719.9,557.0 L721.1,554.3 L722.3,551.6 L723.5,548.8 L724.7,546.1 L726.0,543.4 L727.3,540.7 L728.6,538.1 L729.9,535.4 L731.2,532.7 L732.6,530.1 L734.0,527.4 L735.4,524.8 L736.8,522.2 L738.3,519.6 L739.7,516.9 L741.2,514.4 L742.8,511.8 L744.3,509.2 L745.9,506.6 L747.4,504.1 L749.0,501.5 L750.7,499.0 L752.3,496.5 L754.0,493.9 L755.6,491.4 L757.3,488.9 L759.0,486.4 L760.7,483.9 L762.5,481.4 L764.2,479.0 L766.0,476.5 L767.9,474.2 L769.8,471.9 L771.7,469.7 L773.8,467.6 L776.0,465.6 L778.3,463.8 L780.7,462.1 L783.2,460.6 L785.9,459.3 L788.6,458.2 L791.5,457.3 L794.4,456.6 L797.4,456.2 L800.3,456.0 L803.2,456.0 L806.1,456.3 L808.9,456.9 L811.6,457.8 L814.2,459.0 L816.7,460.4 L819.0,462.1 L821.2,464.0 L823.3,466.1 L825.3,468.4 L827.2,470.9 L829.0,473.4 L830.7,476.0 L832.4,478.7 L833.9,481.4 L835.4,484.1 L836.8,486.9 L838.1,489.6 L839.3,492.4 L840.5,495.1 L841.7,497.9 L842.8,500.7 L843.8,503.5 L844.8,506.3 L845.7,509.1 L846.6,511.9 L847.5,514.7 L848.4,517.5 L849.2,520.4 L850.0,523.2 L850.7,526.1 L851.5,528.9 L852.2,531.8 L853.0,534.6 L853.7,537.5 L854.5,540.4 L855.2,543.3 L856.0,546.2 L856.7,549.1 L857.5,552.0 L858.3,554.9 L859.0,557.8 L859.8,560.7 L860.6,563.6 L861.4,566.5 L862.2,569.4 L863.0,572.3 L863.7,575.3 L864.5,578.2 L865.3,581.1 L866.0,584.1 L866.8,587.0 L867.6,589.9 L868.3,592.9 L869.0,595.8 L869.8,598.8 L870.5,601.7 L871.2,604.6 L871.8,607.6 L872.5,610.5 L873.2,613.5 L873.8,616.4 L874.4,619.4 L875.0,622.3 L875.6,625.3 L876.2,628.2 L876.8,631.1 L877.3,634.1 L877.9,637.0 L878.4,640.0 L878.9,642.9 L879.4,645.9 L880.0,648.8 L880.5,651.8 L880.9,654.7 L881.4,657.6 L881.9,660.6 L882.4,663.5 L882.9,666.5 L883.3,669.4 L883.8,672.4 L884.3,675.3 L884.7,678.3 L885.2,681.2 L885.6,684.2 L886.1,687.1 L886.6,690.1 L887.0,693.0 L887.5,695.9 L887.9,698.9 L888.4,701.8 L888.9,704.8 L889.4,707.7 L889.9,710.7 L890.3,713.6 L890.8,716.6 L891.3,719.5 L891.9,722.5 L892.4,725.4 L892.9,728.4 L893.4,731.3 L894.0,734.3 L894.6,737.2 L895.1,740.2 L895.7,743.1 L896.3,746.1 L896.9,749.0 L897.5,752.0 L898.0,754.9 L898.6,757.9 L899.2,760.8 L899.9,763.8 L900.5,766.7 L901.1,769.7 L901.7,772.6 L902.3,775.6 L902.9,778.5 L903.5,781.5 L904.0,784.4 L904.6,787.4 L905.2,790.3 L905.8,793.3 L906.4,796.2 L906.9,799.2 L907.5,802.2 L908.0,805.1 L908.5,808.1 L909.1,811.0 L909.6,814.0 L910.1,816.9 L910.6,819.9 L911.1,822.8 L911.6,825.8 L912.1,828.8 L912.6,831.7 L913.1,834.7 L913.5,837.6 L914.0,840.6 L914.5,843.5 L914.9,846.5 L915.4,849.5 L915.9,852.4 L916.3,855.4 L916.8,858.3 L917.3,861.3 L917.7,864.3 L918.2,867.2 L918.7,870.2 L919.2,873.1 L919.6,876.1 L920.1,879.1 L920.6,882.0 L921.1,885.0 L921.6,887.9 L922.1,890.9 L922.5,893.9 L923.0,896.8 L923.5,899.8 L924.0,902.8 L924.5,905.7 L925.0,908.7 L925.6,911.6 L926.1,914.6 L926.6,917.6 L927.1,920.5 L927.6,923.5 L928.1,926.4 L928.7,929.4 L929.2,932.3 L929.7,935.3 L930.3,938.3 L930.8,941.2 L931.4,944.2 L931.9,947.1 L932.5,950.1 L933.0,953.0 L933.6,956.0 L934.1,958.9 L934.7,961.9 L935.3,964.8 L935.9,967.8 L936.4,970.7 L937.0,973.7 L937.6,976.6 L938.2,979.5 L938.8,982.5 L939.4,985.4 L940.0,988.4 L940.7,991.3 L941.3,994.2 L941.9,997.2 L942.5,1000.1 L943.2,1003.0 L943.8,1006.0 L944.5,1008.9 L945.1,1011.8 L945.8,1014.7 L946.4,1017.6 L947.1,1020.6 L947.8,1023.5 L948.5,1026.4 L949.2,1029.3 L949.9,1032.2 L950.6,1035.1 L951.3,1038.0 L952.0,1040.9 L952.7,1043.8 L953.5,1046.7 L954.2,1049.6 L955.0,1052.5 L955.7,1055.4 L956.5,1058.3 L957.3,1061.2 L958.0,1064.1 L958.8,1067.0 L959.6,1069.9 L960.5,1072.7 L961.3,1075.6 L962.1,1078.5 L962.9,1081.3 L963.8,1084.2 L964.6,1087.1 L965.5,1089.9 L966.4,1092.8 L967.3,1095.6 L968.2,1098.5 L969.1,1101.3 L970.0,1104.2 L970.9,1107.0 L971.9,1109.9 L972.8,1112.7 L973.8,1115.5 L974.8,1118.4 L975.8,1121.2 L976.8,1124.0 L977.8,1126.8 L978.8,1129.6 L979.8,1132.4 L980.9,1135.2 L982.0,1138.1 L983.0,1140.9 L984.1,1143.6 L985.2,1146.4 L986.3,1149.2 L987.5,1152.0 L988.6,1154.8 L989.8,1157.6 L991.0,1160.3 L992.2,1163.1 L993.4,1165.9 L994.6,1168.6 L995.9,1171.4 L997.1,1174.1 L998.4,1176.9 L999.7,1179.6 L1001.1,1182.4 L1002.4,1185.1 L1003.8,1187.8 L1005.2,1190.5 L1006.6,1193.2 L1008.0,1195.9 L1009.5,1198.5 L1011.1,1201.2 L1012.6,1203.7 L1014.2,1206.3 L1015.9,1208.8 L1017.5,1211.3 L1019.3,1213.7 L1021.1,1216.1 L1022.9,1218.4 L1024.8,1220.7 L1026.7,1222.9 L1028.7,1225.0 L1030.8,1227.1 L1032.9,1229.1 L1035.1,1231.1 L1037.4,1232.9 L1039.7,1234.7 L1042.1,1236.5 L1044.5,1238.1 L1047.0,1239.7 L1049.5,1241.2 L1052.1,1242.7 L1054.7,1244.1 L1057.4,1245.4 L1060.1,1246.6 L1062.9,1247.8 L1065.7,1249.0 L1068.5,1250.1 L1071.3,1251.1 L1074.2,1252.0 L1077.1,1252.9 L1080.0,1253.7 L1083.0,1254.5 L1085.9,1255.3 L1088.9,1255.9 L1091.9,1256.5 L1094.9,1257.1 L1097.9,1257.6 L1100.9,1258.1 L1103.9,1258.5 L1106.9,1258.9 L1109.8,1259.3 L1112.8,1259.6 L1115.8,1259.9 L1118.8,1260.1 L1121.7,1260.4 L1124.6,1260.6 L1127.5,1260.8 L1130.4,1260.9 L1133.3,1261.1 L1135.0,1261.0 L1144.8,1261.0 L1154.7,1261.0 L1164.5,1261.0 L1174.4,1261.0 L1184.2,1261.0 L1194.1,1261.0 L1203.9,1261.0 L1213.8,1261.0 L1223.6,1261.0 L1233.5,1261.0 L1243.3,1261.0 L1253.2,1261.0 L1263.0,1261.0 L1272.9,1261.0 L1282.7,1261.0 L1292.6,1261.0 L1302.4,1261.0 L1312.3,1261.0 L1322.1,1261.0 L1332.0,1261.0 L1341.8,1261.0 L1351.7,1261.0 L1361.5,1261.0 L1371.4,1261.0 L1381.2,1261.0 L1391.1,1261.0 L1400.9,1261.0 L1410.8,1261.0 L1420.6,1261.0 L1430.5,1261.0 L1440.3,1261.0 L1450.2,1261.0 L1460.0,1261.0 L1469.9,1261.0 L1479.7,1261.0 L1489.6,1261.0 L1499.4,1261.0 L1509.3,1261.0 L1519.1,1261.0 L1529.0,1261.0 L1538.8,1261.0 L1548.7,1261.0 L1558.5,1261.0 L1568.4,1261.0 L1578.2,1261.0 L1588.1,1261.0 L1597.9,1261.0 L1607.8,1261.0 L1617.6,1261.0 L1627.5,1261.0 L1637.3,1261.0 L1647.2,1261.0 L1657.0,1261.0" stroke="#b366b3"/>
<path d="M189.0,1131.0 L191.3,1133.5 L194.4,1135.0 L197.5,1136.1 L200.5,1136.7 L203.4,1136.9 L206.2,1136.8 L208.9,1136.4 L211.5,1135.6 L214.1,1134.6 L216.6,1133.3 L219.0,1131.9 L221.4,1130.3 L223.6,1128.5 L225.9,1126.7 L228.0,1124.8 L230.1,1122.7 L232.2,1120.7 L234.1,1118.5 L236.1,1116.3 L238.0,1114.0 L239.8,1111.7 L241.6,1109.3 L243.3,1106.9 L245.1,1104.4 L246.7,1101.9 L248.4,1099.4 L250.0,1096.8 L251.5,1094.2 L253.1,1091.5 L254.6,1088.9 L256.1,1086.2 L257.6,1083.5 L259.0,1080.8 L260.4,1078.1 L261.9,1075.4 L263.3,1072.7 L264.7,1070.0 L266.1,1067.3 L267.4,1064.6 L268.8,1061.9 L270.1,1059.2 L271.5,1056.4 L272.8,1053.7 L274.1,1051.0 L275.4,1048.3 L276.7,1045.6 L278.0,1042.9 L279.3,1040.1 L280.5,1037.4 L281.8,1034.7 L283.1,1032.0 L284.3,1029.2 L285.6,1026.5 L286.8,1023.8 L288.0,1021.1 L289.2,1018.3 L290.5,1015.6 L291.7,1012.9 L292.9,1010.1 L294.1,1007.4 L295.3,1004.7 L296.5,1001.9 L297.7,999.2 L298.9,996.5 L300.1,993.7 L301.3,991.0 L302.5,988.3 L303.7,985.5 L304.9,982.8 L306.0,980.1 L307.2,977.3 L308.4,974.6 L309.6,971.9 L310.8,969.1 L312.0,966.4 L313.2,963.6 L314.4,960.9 L315.6,958.2 L316.8,955.4 L318.0,952.7 L319.2,949.9 L320.4,947.2 L321.6,944.5 L322.8,941.7 L324.0,939.0 L325.2,936.2 L326.4,933.5 L327.7,930.8 L328.9,928.0 L330.1,925.3 L331.3,922.5 L332.5,919.8 L333.7,917.1 L335.0,914.3 L336.2,911.6 L337.4,908.8 L338.6,906.1 L339.8,903.4 L341.1,900.6 L342.3,897.9 L343.5,895.1 L344.8,892.4 L346.0,889.7 L347.2,886.9 L348.4,884.2 L349.7,881.4 L350.9,878.7 L352.1,876.0 L353.4,873.2 L354.6,870.5 L355.9,867.7 L357.1,865.0 L358.3,862.3 L359.6,859.5 L360.8,856.8 L362.1,854.1 L363.3,851.3 L364.6,848.6 L365.8,845.9 L367.1,843.1 L368.3,840.4 L369.6,837.7 L370.8,834.9 L372.1,832.2 L373.3,829.5 L374.6,826.7 L375.8,824.0 L377.1,821.3 L378.3,818.6 L379.6,815.8 L380.9,813.1 L382.1,810.4 L383.4,807.6 L384.7,804.9 L385.9,802.2 L387.2,799.5 L388.4,796.7 L389.7,794.0 L391.0,791.3 L392.3,788.6 L393.5,785.9 L394.8,783.1 L396.1,780.4 L397.3,777.7 L398.6,775.0 L399.9,772.3 L401.2,769.6 L402.4,766.8 L403.7,764.1 L405.0,761.4 L406.3,758.7 L407.6,756.0 L408.9,753.3 L410.1,750.6 L411.4,747.9 L412.7,745.2 L414.0,742.5 L415.3,739.8 L416.6,737.1 L417.9,734.4 L419.2,731.7 L420.6,729.0 L421.9,726.3 L423.2,723.6 L424.5,720.9 L425.9,718.3 L427.2,715.6 L428.5,712.9 L429.9,710.2 L431.2,707.6 L432.6,704.9 L434.0,702.2 L435.3,699.6 L436.7,696.9 L438.1,694.3 L439.5,691.6 L440.9,689.0 L442.3,686.3 L443.7,683.7 L445.1,681.0 L446.6,678.4 L448.0,675.8 L449.5,673.2 L450.9,670.5 L452.4,667.9 L453.9,665.3 L455.3,662.7 L456.8,660.1 L458.3,657.5 L459.8,654.9 L461.3,652.3 L462.7,649.6 L464.2,647.0 L465.7,644.4 L467.2,641.8 L468.6,639.2 L470.1,636.5 L471.6,633.9 L473.0,631.3 L474.4,628.6 L475.9,626.0 L477.3,623.3 L478.7,620.6 L480.1,618.0 L481.5,615.3 L482.9,612.6 L484.3,610.0 L485.7,607.3 L487.1,604.6 L488.5,602.0 L490.0,599.4 L491.4,596.8 L492.9,594.2 L494.4,591.6 L496.0,589.0 L497.5,586.5 L499.1,584.0 L500.8,581.6 L502.5,579.1 L504.2,576.7 L506.0,574.4 L507.8,572.0 L509.7,569.7 L511.6,567.5 L513.5,565.3 L515.6,563.1 L517.6,561.0 L519.7,558.9 L521.9,556.8 L524.1,554.8 L526.3,552.8 L528.6,550.9 L530.9,548.9 L533.3,547.1 L535.7,545.2 L538.1,543.5 L540.6,541.7 L543.2,540.0 L545.7,538.3 L548.4,536.7 L551.0,535.1 L553.7,533.5 L556.4,532.0 L559.2,530.6 L561.9,529.2 L564.7,528.0 L567.6,526.8 L570.4,525.8 L573.3,524.8 L576.2,524.0 L579.1,523.3 L582.0,522.7 L584.9,522.3 L587.9,522.0 L590.7,521.9 L593.6,522.0 L596.4,522.2 L599.2,522.7 L601.9,523.3 L604.5,524.1 L607.1,525.1 L609.6,526.3 L612.1,527.6 L614.5,529.1 L616.8,530.7 L619.1,532.5 L621.3,534.4 L623.4,536.4 L625.5,538.5 L627.6,540.6 L629.5,542.9 L631.4,545.3 L633.3,547.7 L635.1,550.2 L636.8,552.7 L638.5,555.3 L640.1,558.0 L641.7,560.7 L643.2,563.4 L644.7,566.2 L646.1,569.0 L647.4,571.8 L648.7,574.7 L649.9,577.5 L651.1,580.4 L652.2,583.3 L653.3,586.2 L654.3,589.0 L655.2,591.9 L656.1,594.8 L657.0,597.7 L657.8,600.6 L658.6,603.5 L659.3,606.4 L660.0,609.3 L660.7,612.2 L661.3,615.1 L661.9,618.0 L662.4,620.9 L663.0,623.8 L663.5,626.7 L664.0,629.6 L664.4,632.6 L664.9,635.5 L665.3,638.4 L665.7,641.3 L666.1,644.2 L666.5,647.1 L666.9,650.1 L667.3,653.0 L667.7,655.9 L668.0,658.8 L668.4,661.8 L668.8,664.7 L669.2,667.6 L669.6,670.5 L670.0,673.5 L670.4,676.4 L670.8,679.3 L671.2,682.3 L671.7,685.2 L672.2,688.1 L672.7,691.1 L673.2,694.0 L673.7,697.0 L674.3,699.9 L674.8,702.8 L675.4,705.8 L676.0,708.7 L676.6,711.7 L677.2,714.6 L677.8,717.6 L678.4,720.5 L679.0,723.5 L679.7,726.4 L680.3,729.4 L680.9,732.3 L681.5,735.3 L682.2,738.2 L682.8,741.2 L683.4,744.1 L684.0,747.1 L684.6,750.0 L685.1,753.0 L685.7,756.0 L686.3,758.9 L686.8,761.9 L687.4,764.8 L688.0,767.8 L688.5,770.8 L689.0,773.7 L689.6,776.7 L690.1,779.6 L690.6,782.6 L691.2,785.6 L691.7,788.5 L692.2,791.5 L692.7,794.5 L693.2,797.4 L693.7,800.4 L694.2,803.4 L694.7,806.3 L695.2,809.3 L695.7,812.3 L696.1,815.2 L696.6,818.2 L697.1,821.2 L697.6,824.1 L698.0,827.1 L698.5,830.1 L699.0,833.0 L699.4,836.0 L699.9,839.0 L700.4,841.9 L700.8,844.9 L701.3,847.9 L701.7,850.9 L702.2,853.8 L702.6,856.8 L703.1,859.8 L703.5,862.7 L704.0,865.7 L704.4,868.7 L704.9,871.6 L705.3,874.6 L705.8,877.6 L706.2,880.5 L706.7,883.5 L707.1,886.5 L707.6,889.4 L708.0,892.4 L708.5,895.4 L708.9,898.3 L709.4,901.3 L709.8,904.3 L710.2,907.2 L710.7,910.2 L711.1,913.2 L711.6,916.1 L712.0,919.1 L712.5,922.1 L713.0,925.0 L713.4,928.0 L713.9,931.0 L714.3,933.9 L714.8,936.9 L715.2,939.9 L715.7,942.8 L716.2,945.8 L716.7,948.7 L717.1,951.7 L717.6,954.7 L718.1,957.6 L718.6,960.6 L719.0,963.5 L719.5,966.5 L720.0,969.4 L720.5,972.4 L721.0,975.3 L721.5,978.3 L722.0,981.3 L722.5,984.2 L723.0,987.2 L723.6,990.1 L724.1,993.1 L724.6,996.0 L725.1,998.9 L725.7,1001.9 L726.2,1004.8 L726.7,1007.8 L727.3,1010.7 L727.8,1013.7 L728.4,1016.6 L729.0,1019.5 L729.5,1022.5 L730.1,1025.4 L730.7,1028.4 L731.3,1031.3 L731.9,1034.2 L732.5,1037.2 L733.1,1040.1 L733.7,1043.0 L734.3,1046.0 L734.9,1048.9 L735.5,1051.8 L736.1,1054.8 L736.8,1057.7 L737.4,1060.6 L738.0,1063.5 L738.7,1066.5 L739.3,1069.4 L740.0,1072.3 L740.6,1075.3 L741.3,1078.2 L741.9,1081.1 L742.6,1084.0 L743.3,1087.0 L744.0,1089.9 L744.6,1092.8 L745.3,1095.7 L746.0,1098.7 L746.7,1101.6 L747.4,1104.5 L748.1,1107.4 L748.8,1110.4 L749.5,1113.3 L750.2,1116.2 L750.9,1119.1 L751.6,1122.1 L752.3,1125.0 L753.0,1127.9 L753.7,1130.8 L754.5,1133.8 L755.2,1136.7 L756.0,1139.6 L756.7,1142.5 L757.5,1145.4 L758.3,1148.3 L759.1,1151.2 L760.0,1154.1 L760.8,1157.0 L761.7,1159.8 L762.6,1162.7 L763.6,1165.5 L764.5,1168.3 L765.5,1171.2 L766.6,1174.0 L767.7,1176.7 L768.8,1179.5 L769.9,1182.3 L771.1,1185.0 L772.4,1187.7 L773.6,1190.4 L775.0,1193.0 L776.4,1195.7 L777.8,1198.3 L779.3,1200.9 L780.8,1203.5 L782.4,1206.0 L784.1,1208.5 L785.8,1211.0 L787.6,1213.5 L789.4,1215.9 L791.3,1218.3 L793.3,1220.7 L795.3,1223.0 L797.4,1225.2 L799.5,1227.4 L801.7,1229.6 L803.9,1231.7 L806.2,1233.7 L808.5,1235.6 L810.9,1237.5 L813.3,1239.3 L815.7,1241.0 L818.2,1242.6 L820.8,1244.1 L823.3,1245.5 L825.9,1246.8 L828.6,1248.1 L831.3,1249.2 L834.0,1250.3 L836.7,1251.3 L839.5,1252.2 L842.3,1253.0 L845.1,1253.8 L847.9,1254.5 L850.8,1255.1 L853.7,1255.7 L856.6,1256.2 L859.5,1256.7 L862.5,1257.1 L865.4,1257.5 L868.4,1257.9 L871.4,1258.2 L874.4,1258.5 L877.4,1258.7 L880.4,1258.9 L883.4,1259.1 L886.4,1259.3 L889.4,1259.5 L892.5,1259.6 L895.5,1259.7 L898.6,1259.8 L901.6,1259.9 L904.7,1260.0 L907.7,1260.1 L910.8,1260.1 L913.8,1260.2 L916.9,1260.2 L919.9,1260.3 L923.0,1260.3 L926.0,1260.4 L929.0,1260.4 L932.0,1260.5 L935.1,1260.5 L938.1,1260.6 L941.1,1260.6 L944.1,1260.7 L947.1,1260.7 L950.0,1260.8 L953.0,1260.8 L955.9,1260.8 L958.9,1260.9 L961.8,1260.9 L964.7,1260.9 L967.6,1260.9 L970.4,1260.9 L972.4,1260.9 L981.0,1261.0 L991.0,1261.0 L1000.9,1261.0 L1010.9,1261.0 L1020.8,1261.0 L1030.8,1261.0 L1040.7,1261.0 L1050.7,1261.0 L1060.6,1261.0 L1070.6,1261.0 L1080.6,1261.0 L1090.5,1261.0 L1100.5,1261.0 L1110.4,1261.0 L1120.4,1261.0 L1130.3,1261.0 L1140.3,1261.0 L1150.2,1261.0 L1160.2,1261.0 L1170.2,1261.0 L1180.1,1261.0 L1190.1,1261.0 L1200.0,1261.0 L1210.0,1261.0 L1219.9,1261.0 L1229.9,1261.0 L1239.9,1261.0 L1249.8,1261.0 L1259.8,1261.0 L1269.7,1261.0 L1279.7,1261.0 L1289.6,1261.0 L1299.6,1261.0 L1309.5,1261.0 L1319.5,1261.0 L1329.5,1261.0 L1339.4,1261.0 L1349.4,1261.0 L1359.3,1261.0 L1369.3,1261.0 L1379.2,1261.0 L1389.2,1261.0 L1399.1,1261.0 L1409.1,1261.0 L1419.1,1261.0 L1429.0,1261.0 L1439.0,1261.0 L1448.9,1261.0 L1458.9,1261.0 L1468.8,1261.0 L1478.8,1261.0 L1488.8,1261.0 L1498.7,1261.0 L1508.7,1261.0 L1518.6,1261.0 L1528.6,1261.0 L1538.5,1261.0 L1548.5,1261.0 L1558.4,1261.0 L1568.4,1261.0 L1578.4,1261.0 L1588.3,1261.0 L1598.3,1261.0 L1608.2,1261.0 L1618.2,1261.0 L1628.1,1261.0 L1638.1,1261.0 L1648.0,1261.0 L1658.0,1261.0" stroke="#339933"/>
<path d="M189.0,846.0 L191.8,845.8 L195.0,844.9 L198.1,843.8 L201.1,842.8 L204.1,841.9 L207.1,841.3 L210.0,841.0 L212.8,841.0 L215.6,841.5 L218.3,842.2 L220.9,843.2 L223.4,844.5 L225.9,846.0 L228.2,847.7 L230.5,849.6 L232.6,851.6 L234.7,853.8 L236.6,856.0 L238.5,858.3 L240.3,860.6 L241.9,863.1 L243.6,865.6 L245.1,868.1 L246.6,870.7 L248.1,873.3 L249.6,875.9 L251.0,878.6 L252.5,881.3 L253.9,883.9 L255.4,886.6 L256.9,889.3 L258.4,891.9 L260.0,894.5 L261.6,897.1 L263.3,899.6 L265.1,902.1 L266.9,904.5 L268.9,906.8 L270.9,909.1 L273.1,911.3 L275.4,913.4 L277.7,915.3 L280.2,917.0 L282.7,918.5 L285.3,919.8 L288.0,920.8 L290.7,921.6 L293.5,922.0 L296.4,922.1 L299.3,922.1 L302.2,921.8 L305.1,921.3 L308.1,920.8 L311.1,920.1 L314.1,919.4 L317.1,918.6 L320.1,917.9 L323.1,917.3 L326.1,916.8 L329.1,916.5 L332.0,916.4 L334.9,916.5 L337.7,916.9 L340.5,917.7 L343.3,918.7 L346.0,919.9 L348.6,921.4 L351.1,923.0 L353.6,924.8 L356.0,926.7 L358.3,928.8 L360.4,930.9 L362.5,933.1 L364.5,935.3 L366.4,937.6 L368.3,939.9 L370.0,942.3 L371.7,944.7 L373.4,947.2 L375.0,949.7 L376.6,952.2 L378.1,954.8 L379.6,957.3 L381.2,960.0 L382.7,962.6 L384.1,965.2 L385.6,967.9 L387.0,970.6 L388.5,973.3 L389.9,976.0 L391.3,978.7 L392.6,981.4 L394.0,984.1 L395.3,986.8 L396.6,989.4 L397.9,992.1 L399.2,994.8 L400.5,997.4 L401.9,1000.1 L403.2,1002.7 L404.5,1005.4 L405.9,1008.0 L407.2,1010.6 L408.7,1013.2 L410.1,1015.8 L411.6,1018.4 L413.1,1021.0 L414.7,1023.5 L416.4,1026.1 L418.1,1028.6 L419.9,1031.0 L421.7,1033.4 L423.6,1035.8 L425.6,1038.1 L427.7,1040.3 L429.9,1042.4 L432.2,1044.5 L434.5,1046.5 L437.0,1048.3 L439.5,1049.9 L442.1,1051.4 L444.8,1052.7 L447.5,1053.8 L450.3,1054.6 L453.1,1055.1 L455.9,1055.4 L458.7,1055.3 L461.5,1054.9 L464.4,1054.2 L467.2,1053.3 L470.0,1052.2 L472.8,1051.0 L475.6,1049.6 L478.3,1048.0 L480.9,1046.4 L483.5,1044.7 L486.0,1043.0 L488.5,1041.2 L490.9,1039.4 L493.3,1037.6 L495.6,1035.7 L497.8,1033.8 L500.1,1031.9 L502.2,1029.9 L504.4,1028.0 L506.5,1026.0 L508.6,1023.9 L510.7,1021.9 L512.8,1019.8 L514.8,1017.7 L516.9,1015.6 L518.9,1013.5 L521.0,1011.3 L523.0,1009.1 L525.1,1006.9 L527.1,1004.7 L529.2,1002.5 L531.2,1000.3 L533.3,998.0 L535.3,995.7 L537.3,993.4 L539.3,991.1 L541.3,988.8 L543.3,986.5 L545.3,984.1 L547.2,981.7 L549.1,979.3 L551.0,976.9 L552.9,974.5 L554.8,972.1 L556.6,969.7 L558.4,967.2 L560.1,964.8 L561.8,962.3 L563.5,959.8 L565.1,957.3 L566.7,954.8 L568.3,952.3 L569.9,949.7 L571.4,947.2 L572.9,944.7 L574.4,942.1 L575.9,939.5 L577.3,937.0 L578.7,934.4 L580.1,931.8 L581.5,929.2 L582.9,926.6 L584.3,923.9 L585.6,921.3 L586.9,918.7 L588.3,916.0 L589.6,913.4 L590.9,910.7 L592.2,908.1 L593.5,905.4 L594.8,902.7 L596.1,900.1 L597.5,897.4 L598.8,894.7 L600.1,892.0 L601.4,889.3 L602.7,886.6 L604.0,883.9 L605.3,881.2 L606.6,878.5 L607.9,875.8 L609.2,873.1 L610.5,870.4 L611.8,867.6 L613.1,864.9 L614.4,862.2 L615.7,859.4 L617.0,856.7 L618.3,854.0 L619.6,851.2 L620.8,848.5 L622.1,845.7 L623.4,843.0 L624.6,840.2 L625.9,837.4 L627.1,834.7 L628.3,831.9 L629.5,829.1 L630.8,826.4 L632.0,823.6 L633.2,820.8 L634.3,818.0 L635.5,815.3 L636.7,812.5 L637.8,809.7 L639.0,806.9 L640.1,804.1 L641.2,801.3 L642.4,798.5 L643.5,795.7 L644.5,792.9 L645.6,790.1 L646.7,787.3 L647.7,784.5 L648.7,781.7 L649.7,778.9 L650.7,776.1 L651.7,773.3 L652.7,770.5 L653.7,767.7 L654.6,764.9 L655.6,762.1 L656.5,759.2 L657.4,756.4 L658.4,753.6 L659.3,750.8 L660.2,748.0 L661.1,745.2 L662.0,742.3 L662.9,739.5 L663.9,736.7 L664.8,733.9 L665.7,731.0 L666.6,728.2 L667.6,725.4 L668.5,722.6 L669.5,719.7 L670.5,716.9 L671.4,714.1 L672.4,711.2 L673.4,708.4 L674.4,705.6 L675.4,702.7 L676.4,699.9 L677.4,697.0 L678.4,694.2 L679.5,691.4 L680.5,688.5 L681.5,685.7 L682.5,682.8 L683.6,680.0 L684.6,677.1 L685.6,674.3 L686.6,671.4 L687.7,668.6 L688.7,665.7 L689.7,662.9 L690.8,660.0 L691.8,657.2 L692.8,654.3 L693.8,651.5 L694.8,648.6 L695.8,645.8 L696.8,642.9 L697.9,640.1 L698.9,637.2 L699.9,634.4 L700.9,631.5 L702.0,628.7 L703.0,625.9 L704.0,623.0 L705.1,620.2 L706.2,617.4 L707.3,614.6 L708.4,611.8 L709.5,609.0 L710.6,606.3 L711.7,603.5 L712.9,600.8 L714.1,598.0 L715.3,595.3 L716.5,592.6 L717.8,589.9 L719.1,587.2 L720.4,584.5 L721.7,581.8 L723.0,579.2 L724.4,576.6 L725.8,574.0 L727.3,571.4 L728.7,568.8 L730.2,566.3 L731.7,563.7 L733.3,561.2 L734.9,558.7 L736.5,556.3 L738.1,553.8 L739.7,551.4 L741.4,549.0 L743.1,546.6 L744.9,544.3 L746.6,541.9 L748.4,539.6 L750.3,537.4 L752.1,535.1 L754.0,532.9 L755.9,530.7 L757.9,528.5 L759.8,526.3 L761.9,524.1 L763.9,521.9 L766.0,519.7 L768.2,517.4 L770.4,515.1 L772.6,512.8 L774.9,510.5 L777.2,508.3 L779.6,506.1 L782.0,504.1 L784.5,502.2 L787.1,500.5 L789.7,499.0 L792.4,497.8 L795.1,496.8 L797.8,496.1 L800.6,495.7 L803.4,495.5 L806.1,495.7 L808.8,496.0 L811.4,496.7 L813.9,497.7 L816.3,498.9 L818.6,500.3 L820.8,502.1 L822.8,504.0 L824.7,506.2 L826.6,508.5 L828.3,511.0 L830.0,513.5 L831.6,516.2 L833.1,518.9 L834.5,521.7 L835.9,524.5 L837.3,527.3 L838.6,530.0 L839.9,532.8 L841.1,535.7 L842.3,538.5 L843.5,541.3 L844.6,544.1 L845.7,547.0 L846.7,549.8 L847.7,552.7 L848.7,555.5 L849.6,558.4 L850.6,561.2 L851.4,564.1 L852.3,567.0 L853.1,569.9 L853.9,572.8 L854.7,575.7 L855.5,578.6 L856.2,581.5 L856.9,584.4 L857.6,587.3 L858.3,590.2 L858.9,593.1 L859.6,596.0 L860.2,599.0 L860.8,601.9 L861.4,604.8 L862.0,607.7 L862.6,610.7 L863.1,613.6 L863.7,616.5 L864.3,619.5 L864.8,622.4 L865.4,625.4 L865.9,628.3 L866.5,631.2 L867.0,634.2 L867.6,637.1 L868.2,640.1 L868.7,643.0 L869.3,645.9 L869.8,648.9 L870.4,651.8 L871.0,654.8 L871.6,657.7 L872.1,660.6 L872.7,663.6 L873.3,666.5 L873.9,669.4 L874.4,672.4 L875.0,675.3 L875.6,678.3 L876.2,681.2 L876.8,684.1 L877.4,687.1 L878.0,690.0 L878.6,692.9 L879.2,695.9 L879.8,698.8 L880.4,701.7 L881.0,704.7 L881.6,707.6 L882.2,710.6 L882.9,713.5 L883.5,716.4 L884.1,719.4 L884.7,722.3 L885.3,725.2 L886.0,728.2 L886.6,731.1 L887.2,734.1 L887.9,737.0 L888.5,739.9 L889.2,742.9 L889.8,745.8 L890.4,748.7 L891.1,751.7 L891.7,754.6 L892.4,757.5 L893.1,760.5 L893.7,763.4 L894.4,766.4 L895.0,769.3 L895.7,772.2 L896.4,775.2 L897.0,778.1 L897.7,781.1 L898.3,784.0 L899.0,786.9 L899.6,789.9 L900.3,792.8 L900.9,795.8 L901.6,798.7 L902.2,801.6 L902.8,804.6 L903.4,807.5 L904.0,810.5 L904.6,813.4 L905.2,816.3 L905.8,819.3 L906.3,822.2 L906.9,825.2 L907.4,828.1 L908.0,831.1 L908.5,834.0 L909.0,836.9 L909.5,839.9 L909.9,842.8 L910.4,845.8 L910.9,848.7 L911.3,851.7 L911.8,854.6 L912.3,857.6 L912.7,860.5 L913.2,863.5 L913.6,866.4 L914.1,869.4 L914.6,872.3 L915.0,875.3 L915.5,878.2 L916.0,881.2 L916.5,884.1 L917.0,887.1 L917.5,890.0 L918.1,893.0 L918.6,895.9 L919.1,898.9 L919.7,901.8 L920.3,904.8 L920.8,907.7 L921.4,910.7 L922.0,913.6 L922.5,916.6 L923.1,919.6 L923.7,922.5 L924.3,925.5 L924.9,928.4 L925.5,931.4 L926.0,934.3 L926.6,937.3 L927.2,940.2 L927.8,943.2 L928.4,946.1 L928.9,949.1 L929.5,952.0 L930.1,955.0 L930.6,957.9 L931.2,960.9 L931.8,963.8 L932.3,966.7 L932.9,969.7 L933.5,972.6 L934.0,975.6 L934.6,978.5 L935.2,981.5 L935.8,984.4 L936.4,987.3 L937.0,990.3 L937.6,993.2 L938.2,996.1 L938.8,999.1 L939.4,1002.0 L940.1,1004.9 L940.7,1007.8 L941.4,1010.8 L942.0,1013.7 L942.7,1016.6 L943.4,1019.5 L944.1,1022.4 L944.8,1025.3 L945.6,1028.3 L946.3,1031.2 L947.0,1034.1 L947.8,1037.0 L948.6,1039.9 L949.3,1042.8 L950.1,1045.7 L950.9,1048.6 L951.7,1051.5 L952.5,1054.4 L953.4,1057.2 L954.2,1060.1 L955.1,1063.0 L955.9,1065.9 L956.8,1068.8 L957.6,1071.6 L958.5,1074.5 L959.4,1077.4 L960.3,1080.2 L961.2,1083.1 L962.1,1086.0 L963.1,1088.8 L964.0,1091.7 L965.0,1094.5 L965.9,1097.4 L966.9,1100.2 L967.8,1103.0 L968.8,1105.9 L969.8,1108.7 L970.8,1111.5 L971.8,1114.3 L972.8,1117.2 L973.8,1120.0 L974.8,1122.8 L975.8,1125.6 L976.9,1128.4 L977.9,1131.2 L979.0,1134.0 L980.0,1136.8 L981.1,1139.6 L982.2,1142.4 L983.3,1145.1 L984.3,1147.9 L985.5,1150.7 L986.6,1153.4 L987.7,1156.2 L988.9,1158.9 L990.1,1161.7 L991.3,1164.4 L992.5,1167.2 L993.7,1169.9 L995.0,1172.6 L996.3,1175.3 L997.6,1178.0 L998.9,1180.7 L1000.3,1183.4 L1001.7,1186.1 L1003.1,1188.7 L1004.6,1191.4 L1006.1,1194.1 L1007.6,1196.7 L1009.2,1199.3 L1010.8,1201.9 L1012.5,1204.4 L1014.1,1206.9 L1015.9,1209.4 L1017.6,1211.9 L1019.5,1214.3 L1021.3,1216.7 L1023.2,1219.0 L1025.2,1221.2 L1027.2,1223.5 L1029.3,1225.6 L1031.4,1227.7 L1033.5,1229.7 L1035.7,1231.7 L1038.0,1233.6 L1040.3,1235.4 L1042.7,1237.2 L1045.2,1238.9 L1047.7,1240.5 L1050.2,1242.0 L1052.8,1243.4 L1055.4,1244.8 L1058.1,1246.1 L1060.8,1247.3 L1063.5,1248.4 L1066.3,1249.5 L1069.1,1250.5 L1071.9,1251.4 L1074.8,1252.2 L1077.7,1253.0 L1080.6,1253.7 L1083.5,1254.4 L1086.5,1255.0 L1089.5,1255.6 L1092.4,1256.3 L1095.4,1256.9 L1098.4,1257.4 L1101.4,1258.0 L1104.4,1258.5 L1107.4,1259.0 L1110.4,1259.5 L1113.4,1259.9 L1116.4,1260.3 L1119.4,1260.6 L1122.3,1260.8 L1125.3,1260.9 L1128.2,1261.0 L1131.1,1261.0 L1134.0,1260.9 L1135.0,1261.0 L1144.8,1261.0 L1154.7,1261.0 L1164.5,1261.0 L1174.4,1261.0 L1184.2,1261.0 L1194.1,1261.0 L1203.9,1261.0 L1213.8,1261.0 L1223.6,1261.0 L1233.5,1261.0 L1243.3,1261.0 L1253.2,1261.0 L1263.0,1261.0 L1272.9,1261.0 L1282.7,1261.0 L1292.6,1261.0 L1302.4,1261.0 L1312.3,1261.0 L1322.1,1261.0 L1332.0,1261.0 L1341.8,1261.0 L1351.7,1261.0 L1361.5,1261.0 L1371.4,1261.0 L1381.2,1261.0 L1391.1,1261.0 L1400.9,1261.0 L1410.8,1261.0 L1420.6,1261.0 L1430.5,1261.0 L1440.3,1261.0 L1450.2,1261.0 L1460.0,1261.0 L1469.9,1261.0 L1479.7,1261.0 L1489.6,1261.0 L1499.4,1261.0 L1509.3,1261.0 L1519.1,1261.0 L1529.0,1261.0 L1538.8,1261.0 L1548.7,1261.0 L1558.5,1261.0 L1568.4,1261.0 L1578.2,1261.0 L1588.1,1261.0 L1597.9,1261.0 L1607.8,1261.0 L1617.6,1261.0 L1627.5,1261.0 L1637.3,1261.0 L1647.2,1261.0 L1657.0,1261.0" stroke="#993399"/>
<path d="M189.0,1150.6 L192.1,1152.5 L195.0,1153.0 L197.9,1153.0 L200.7,1152.8 L203.5,1152.3 L206.1,1151.5 L208.8,1150.5 L211.3,1149.3 L213.8,1147.9 L216.2,1146.3 L218.5,1144.6 L220.8,1142.7 L223.0,1140.7 L225.2,1138.7 L227.3,1136.6 L229.4,1134.4 L231.4,1132.2 L233.4,1129.9 L235.3,1127.6 L237.2,1125.2 L239.0,1122.8 L240.8,1120.4 L242.5,1117.9 L244.2,1115.4 L245.9,1112.9 L247.5,1110.3 L249.1,1107.7 L250.6,1105.1 L252.2,1102.5 L253.7,1099.8 L255.1,1097.1 L256.6,1094.5 L258.0,1091.8 L259.4,1089.1 L260.8,1086.4 L262.1,1083.7 L263.4,1081.0 L264.7,1078.3 L266.0,1075.6 L267.3,1072.8 L268.6,1070.1 L269.8,1067.4 L271.1,1064.7 L272.3,1062.0 L273.5,1059.3 L274.7,1056.5 L275.9,1053.8 L277.1,1051.1 L278.3,1048.4 L279.5,1045.6 L280.7,1042.9 L281.9,1040.2 L283.0,1037.4 L284.2,1034.7 L285.4,1032.0 L286.6,1029.2 L287.8,1026.5 L289.0,1023.7 L290.1,1021.0 L291.3,1018.3 L292.5,1015.5 L293.7,1012.8 L294.9,1010.0 L296.1,1007.3 L297.3,1004.5 L298.5,1001.8 L299.7,999.1 L300.9,996.3 L302.2,993.6 L303.4,990.8 L304.6,988.1 L305.8,985.3 L307.0,982.6 L308.2,979.8 L309.3,977.1 L310.5,974.3 L311.7,971.6 L312.8,968.8 L314.0,966.1 L315.2,963.3 L316.3,960.5 L317.4,957.8 L318.6,955.0 L319.7,952.3 L320.9,949.5 L322.0,946.8 L323.2,944.0 L324.3,941.3 L325.5,938.5 L326.6,935.8 L327.8,933.0 L329.0,930.3 L330.1,927.5 L331.3,924.8 L332.5,922.0 L333.7,919.3 L334.9,916.5 L336.1,913.8 L337.3,911.0 L338.5,908.3 L339.7,905.5 L341.0,902.8 L342.2,900.0 L343.4,897.3 L344.7,894.5 L345.9,891.8 L347.2,889.0 L348.4,886.3 L349.7,883.6 L350.9,880.8 L352.1,878.1 L353.4,875.3 L354.6,872.6 L355.9,869.9 L357.1,867.1 L358.4,864.4 L359.6,861.7 L360.9,858.9 L362.1,856.2 L363.4,853.5 L364.6,850.7 L365.9,848.0 L367.1,845.3 L368.4,842.5 L369.6,839.8 L370.9,837.1 L372.1,834.4 L373.4,831.6 L374.6,828.9 L375.9,826.2 L377.1,823.5 L378.4,820.8 L379.7,818.1 L380.9,815.3 L382.2,812.6 L383.5,809.9 L384.7,807.2 L386.0,804.5 L387.3,801.8 L388.6,799.1 L389.9,796.4 L391.2,793.7 L392.5,791.0 L393.8,788.3 L395.1,785.6 L396.4,782.9 L397.7,780.2 L399.0,777.6 L400.3,774.9 L401.7,772.2 L403.0,769.5 L404.4,766.8 L405.7,764.2 L407.0,761.5 L408.4,758.8 L409.8,756.1 L411.1,753.5 L412.5,750.8 L413.9,748.1 L415.2,745.5 L416.6,742.8 L418.0,740.1 L419.4,737.5 L420.8,734.8 L422.2,732.2 L423.6,729.5 L425.0,726.8 L426.3,724.2 L427.7,721.5 L429.1,718.9 L430.6,716.2 L432.0,713.5 L433.4,710.9 L434.8,708.2 L436.2,705.6 L437.6,702.9 L439.0,700.3 L440.4,697.6 L441.8,694.9 L443.2,692.3 L444.6,689.6 L446.0,687.0 L447.5,684.3 L448.9,681.7 L450.3,679.0 L451.7,676.3 L453.1,673.7 L454.5,671.0 L456.0,668.4 L457.4,665.8 L458.8,663.1 L460.3,660.5 L461.8,657.9 L463.2,655.3 L464.7,652.7 L466.2,650.1 L467.7,647.5 L469.3,644.9 L470.8,642.4 L472.4,639.8 L474.0,637.3 L475.6,634.8 L477.2,632.3 L478.9,629.8 L480.6,627.4 L482.3,624.9 L484.0,622.5 L485.8,620.1 L487.6,617.7 L489.4,615.4 L491.2,613.1 L493.1,610.8 L495.0,608.5 L496.9,606.2 L498.9,604.0 L500.9,601.8 L502.9,599.6 L505.0,597.5 L507.1,595.4 L509.3,593.3 L511.4,591.3 L513.7,589.2 L515.9,587.2 L518.2,585.3 L520.5,583.3 L522.8,581.4 L525.2,579.5 L527.6,577.6 L530.0,575.7 L532.5,573.9 L534.9,572.0 L537.4,570.2 L540.0,568.4 L542.5,566.7 L545.1,564.9 L547.7,563.2 L550.3,561.5 L553.0,559.9 L555.6,558.3 L558.3,556.9 L561.0,555.5 L563.7,554.2 L566.4,553.0 L569.2,551.9 L571.9,551.0 L574.7,550.2 L577.5,549.6 L580.3,549.1 L583.1,548.8 L585.9,548.7 L588.8,548.8 L591.6,549.0 L594.4,549.5 L597.3,550.1 L600.1,550.9 L602.8,551.8 L605.6,553.0 L608.3,554.2 L610.9,555.6 L613.5,557.2 L616.0,558.8 L618.4,560.6 L620.8,562.6 L623.1,564.6 L625.3,566.7 L627.5,568.9 L629.5,571.2 L631.5,573.6 L633.3,576.1 L635.1,578.6 L636.8,581.2 L638.5,583.8 L640.1,586.5 L641.6,589.2 L643.0,592.0 L644.3,594.7 L645.6,597.5 L646.8,600.4 L648.0,603.2 L649.1,606.0 L650.1,608.8 L651.1,611.6 L652.0,614.5 L652.9,617.3 L653.8,620.1 L654.6,623.0 L655.4,625.8 L656.1,628.7 L656.8,631.5 L657.5,634.4 L658.2,637.2 L658.9,640.1 L659.5,642.9 L660.2,645.8 L660.9,648.7 L661.5,651.5 L662.2,654.4 L662.8,657.3 L663.5,660.2 L664.2,663.1 L664.9,665.9 L665.6,668.8 L666.3,671.7 L666.9,674.6 L667.6,677.5 L668.3,680.4 L669.0,683.3 L669.7,686.2 L670.4,689.1 L671.1,692.0 L671.7,694.9 L672.4,697.8 L673.1,700.7 L673.8,703.6 L674.4,706.5 L675.1,709.5 L675.7,712.4 L676.3,715.3 L677.0,718.2 L677.6,721.2 L678.2,724.1 L678.8,727.0 L679.4,729.9 L680.0,732.9 L680.6,735.8 L681.2,738.8 L681.8,741.7 L682.4,744.6 L683.0,747.6 L683.5,750.5 L684.1,753.5 L684.7,756.4 L685.2,759.4 L685.8,762.3 L686.3,765.3 L686.9,768.2 L687.4,771.2 L688.0,774.1 L688.5,777.1 L689.0,780.0 L689.6,783.0 L690.1,785.9 L690.6,788.9 L691.1,791.9 L691.7,794.8 L692.2,797.8 L692.7,800.8 L693.2,803.7 L693.7,806.7 L694.2,809.7 L694.7,812.6 L695.2,815.6 L695.7,818.6 L696.2,821.5 L696.6,824.5 L697.1,827.5 L697.6,830.4 L698.1,833.4 L698.6,836.4 L699.0,839.4 L699.5,842.3 L700.0,845.3 L700.4,848.3 L700.9,851.3 L701.3,854.2 L701.8,857.2 L702.2,860.2 L702.7,863.2 L703.2,866.1 L703.6,869.1 L704.1,872.1 L704.5,875.1 L705.0,878.1 L705.4,881.0 L705.8,884.0 L706.3,887.0 L706.7,890.0 L707.2,892.9 L707.6,895.9 L708.1,898.9 L708.5,901.9 L709.0,904.8 L709.4,907.8 L709.9,910.8 L710.3,913.8 L710.8,916.7 L711.2,919.7 L711.7,922.7 L712.1,925.7 L712.6,928.6 L713.0,931.6 L713.5,934.6 L713.9,937.6 L714.4,940.5 L714.9,943.5 L715.3,946.5 L715.8,949.4 L716.3,952.4 L716.7,955.4 L717.2,958.3 L717.7,961.3 L718.2,964.2 L718.7,967.2 L719.1,970.2 L719.6,973.1 L720.1,976.1 L720.6,979.0 L721.1,982.0 L721.6,985.0 L722.1,987.9 L722.6,990.9 L723.2,993.8 L723.7,996.8 L724.2,999.7 L724.7,1002.6 L725.3,1005.6 L725.8,1008.5 L726.3,1011.5 L726.9,1014.4 L727.4,1017.4 L728.0,1020.3 L728.6,1023.2 L729.1,1026.2 L729.7,1029.1 L730.3,1032.0 L730.9,1034.9 L731.5,1037.9 L732.1,1040.8 L732.7,1043.7 L733.3,1046.6 L733.9,1049.6 L734.5,1052.5 L735.1,1055.4 L735.8,1058.3 L736.4,1061.2 L737.0,1064.2 L737.7,1067.1 L738.3,1070.0 L739.0,1072.9 L739.6,1075.8 L740.3,1078.7 L741.0,1081.6 L741.6,1084.6 L742.3,1087.5 L743.0,1090.4 L743.7,1093.3 L744.4,1096.2 L745.1,1099.1 L745.8,1102.0 L746.5,1105.0 L747.2,1107.9 L747.9,1110.8 L748.6,1113.7 L749.3,1116.6 L750.1,1119.5 L750.8,1122.5 L751.5,1125.4 L752.3,1128.3 L753.0,1131.2 L753.8,1134.1 L754.5,1137.1 L755.3,1140.0 L756.0,1142.9 L756.8,1145.8 L757.6,1148.7 L758.5,1151.6 L759.3,1154.5 L760.2,1157.4 L761.0,1160.3 L762.0,1163.1 L762.9,1166.0 L763.9,1168.8 L764.9,1171.7 L765.9,1174.5 L767.0,1177.3 L768.1,1180.0 L769.2,1182.8 L770.4,1185.5 L771.6,1188.3 L772.9,1191.0 L774.2,1193.6 L775.6,1196.3 L777.0,1198.9 L778.5,1201.5 L780.1,1204.1 L781.7,1206.6 L783.3,1209.2 L785.1,1211.6 L786.8,1214.1 L788.7,1216.5 L790.6,1218.9 L792.6,1221.2 L794.6,1223.5 L796.7,1225.7 L798.8,1227.9 L801.0,1230.0 L803.2,1232.1 L805.5,1234.1 L807.8,1236.0 L810.2,1237.8 L812.7,1239.6 L815.1,1241.2 L817.6,1242.8 L820.2,1244.3 L822.8,1245.7 L825.4,1247.0 L828.1,1248.2 L830.8,1249.3 L833.5,1250.4 L836.2,1251.3 L839.0,1252.2 L841.8,1253.0 L844.6,1253.8 L847.5,1254.5 L850.4,1255.1 L853.3,1255.7 L856.2,1256.2 L859.1,1256.7 L862.1,1257.1 L865.0,1257.5 L868.0,1257.9 L871.0,1258.2 L874.0,1258.5 L877.0,1258.8 L880.0,1259.0 L883.0,1259.3 L886.0,1259.5 L889.1,1259.6 L892.1,1259.8 L895.1,1259.9 L898.2,1260.0 L901.2,1260.1 L904.3,1260.2 L907.3,1260.2 L910.3,1260.3 L913.4,1260.3 L916.4,1260.4 L919.5,1260.4 L922.5,1260.4 L925.5,1260.4 L928.6,1260.4 L931.6,1260.4 L934.6,1260.4 L937.6,1260.5 L940.6,1260.5 L943.6,1260.5 L946.6,1260.5 L949.6,1260.5 L952.5,1260.6 L955.5,1260.6 L958.4,1260.7 L961.3,1260.8 L964.2,1260.9 L967.1,1261.0 L970.0,1261.1 L971.4,1260.9 L980.0,1261.0 L990.0,1261.0 L999.9,1261.0 L1009.9,1261.0 L1019.8,1261.0 L1029.8,1261.0 L1039.7,1261.0 L1049.7,1261.0 L1059.6,1261.0 L1069.6,1261.0 L1079.6,1261.0 L1089.5,1261.0 L1099.5,1261.0 L1109.4,1261.0 L1119.4,1261.0 L1129.3,1261.0 L1139.3,1261.0 L1149.2,1261.0 L1159.2,1261.0 L1169.2,1261.0 L1179.1,1261.0 L1189.1,1261.0 L1199.0,1261.0 L1209.0,1261.0 L1218.9,1261.0 L1228.9,1261.0 L1238.9,1261.0 L1248.8,1261.0 L1258.8,1261.0 L1268.7,1261.0 L1278.7,1261.0 L1288.6,1261.0 L1298.6,1261.0 L1308.5,1261.0 L1318.5,1261.0 L1328.5,1261.0 L1338.4,1261.0 L1348.4,1261.0 L1358.3,1261.0 L1368.3,1261.0 L1378.2,1261.0 L1388.2,1261.0 L1398.1,1261.0 L1408.1,1261.0 L1418.1,1261.0 L1428.0,1261.0 L1438.0,1261.0 L1447.9,1261.0 L1457.9,1261.0 L1467.8,1261.0 L1477.8,1261.0 L1487.8,1261.0 L1497.7,1261.0 L1507.7,1261.0 L1517.6,1261.0 L1527.6,1261.0 L1537.5,1261.0 L1547.5,1261.0 L1557.4,1261.0 L1567.4,1261.0 L1577.4,1261.0 L1587.3,1261.0 L1597.3,1261.0 L1607.2,1261.0 L1617.2,1261.0 L1627.1,1261.0 L1637.1,1261.0 L1647.0,1261.0 L1657.0,1261.0" stroke="#008000"/>
<path d="M189.0,861.0 L191.4,859.8 L194.1,858.3 L196.7,856.4 L199.4,854.4 L202.1,852.4 L204.8,850.5 L207.4,848.9 L210.0,847.6 L212.6,847.0 L215.2,846.8 L217.7,847.2 L220.2,848.1 L222.6,849.3 L224.9,850.9 L227.1,852.8 L229.3,854.8 L231.4,857.0 L233.3,859.3 L235.2,861.7 L236.9,864.1 L238.6,866.6 L240.2,869.1 L241.7,871.6 L243.2,874.2 L244.6,876.8 L245.9,879.5 L247.3,882.2 L248.6,884.9 L249.9,887.6 L251.2,890.4 L252.5,893.2 L253.8,895.9 L255.2,898.7 L256.5,901.5 L258.0,904.3 L259.4,907.0 L260.9,909.7 L262.5,912.4 L264.1,915.0 L265.8,917.5 L267.6,919.9 L269.4,922.2 L271.4,924.4 L273.4,926.5 L275.6,928.3 L277.8,930.0 L280.2,931.6 L282.7,932.9 L285.2,933.9 L287.9,934.6 L290.6,935.0 L293.4,935.0 L296.3,934.6 L299.2,934.0 L302.1,933.2 L305.1,932.3 L308.1,931.3 L311.1,930.2 L314.1,929.2 L317.1,928.3 L320.1,927.5 L323.1,926.8 L326.1,926.4 L329.0,926.2 L331.9,926.3 L334.8,926.8 L337.6,927.6 L340.4,928.6 L343.1,929.9 L345.8,931.4 L348.3,933.0 L350.8,934.8 L353.2,936.7 L355.5,938.7 L357.8,940.7 L359.9,942.7 L362.0,944.9 L363.9,947.0 L365.9,949.3 L367.7,951.5 L369.5,953.9 L371.2,956.2 L372.9,958.7 L374.5,961.1 L376.1,963.6 L377.6,966.1 L379.1,968.7 L380.6,971.2 L382.1,973.8 L383.5,976.5 L384.9,979.1 L386.3,981.8 L387.7,984.5 L389.0,987.2 L390.4,989.9 L391.7,992.6 L393.1,995.3 L394.4,998.1 L395.7,1000.8 L397.1,1003.5 L398.4,1006.3 L399.8,1009.0 L401.2,1011.7 L402.5,1014.4 L403.9,1017.1 L405.4,1019.7 L406.8,1022.4 L408.3,1025.0 L409.8,1027.6 L411.3,1030.2 L412.8,1032.7 L414.4,1035.2 L416.0,1037.7 L417.7,1040.2 L419.4,1042.5 L421.2,1044.9 L423.1,1047.2 L425.0,1049.4 L427.0,1051.6 L429.1,1053.8 L431.3,1055.8 L433.6,1057.8 L436.0,1059.7 L438.5,1061.6 L441.1,1063.3 L443.8,1064.8 L446.6,1066.1 L449.4,1067.1 L452.3,1067.8 L455.2,1068.1 L458.0,1068.1 L460.9,1067.8 L463.8,1067.4 L466.6,1066.8 L469.3,1066.1 L472.0,1065.2 L474.7,1064.2 L477.3,1063.0 L479.9,1061.8 L482.5,1060.4 L485.0,1059.0 L487.5,1057.4 L490.0,1055.7 L492.4,1054.0 L494.8,1052.2 L497.1,1050.3 L499.4,1048.4 L501.7,1046.4 L504.0,1044.3 L506.2,1042.2 L508.4,1040.1 L510.6,1038.0 L512.8,1035.9 L514.9,1033.7 L517.0,1031.5 L519.1,1029.3 L521.1,1027.1 L523.2,1024.8 L525.2,1022.6 L527.2,1020.3 L529.1,1018.0 L531.1,1015.7 L533.0,1013.4 L534.9,1011.0 L536.8,1008.7 L538.7,1006.3 L540.5,1003.9 L542.3,1001.5 L544.1,999.1 L545.9,996.7 L547.6,994.2 L549.4,991.8 L551.1,989.3 L552.8,986.9 L554.5,984.4 L556.1,981.9 L557.8,979.4 L559.4,976.8 L561.0,974.3 L562.6,971.8 L564.2,969.2 L565.7,966.7 L567.2,964.1 L568.8,961.5 L570.2,958.9 L571.7,956.3 L573.2,953.7 L574.6,951.1 L576.1,948.5 L577.5,945.9 L578.9,943.3 L580.3,940.6 L581.6,938.0 L583.0,935.3 L584.3,932.7 L585.6,930.0 L586.9,927.4 L588.2,924.7 L589.5,922.0 L590.7,919.4 L592.0,916.7 L593.2,914.0 L594.4,911.3 L595.7,908.6 L596.9,905.9 L598.2,903.2 L599.4,900.5 L600.7,897.8 L602.0,895.1 L603.3,892.4 L604.6,889.7 L605.9,887.0 L607.3,884.3 L608.7,881.5 L610.1,878.8 L611.4,876.1 L612.8,873.4 L614.2,870.6 L615.6,867.9 L616.9,865.1 L618.3,862.4 L619.6,859.6 L620.9,856.9 L622.2,854.1 L623.5,851.4 L624.7,848.6 L625.9,845.9 L627.1,843.1 L628.3,840.3 L629.5,837.6 L630.6,834.8 L631.7,832.0 L632.8,829.2 L633.9,826.5 L635.0,823.7 L636.1,820.9 L637.1,818.1 L638.2,815.3 L639.2,812.6 L640.3,809.8 L641.3,807.0 L642.3,804.2 L643.3,801.4 L644.3,798.6 L645.4,795.8 L646.4,793.0 L647.4,790.2 L648.4,787.4 L649.4,784.6 L650.4,781.8 L651.4,779.0 L652.4,776.1 L653.4,773.3 L654.4,770.5 L655.5,767.7 L656.5,764.9 L657.5,762.1 L658.5,759.3 L659.5,756.4 L660.5,753.6 L661.5,750.8 L662.5,748.0 L663.5,745.2 L664.5,742.3 L665.5,739.5 L666.5,736.7 L667.5,733.9 L668.5,731.0 L669.6,728.2 L670.6,725.4 L671.6,722.5 L672.6,719.7 L673.6,716.9 L674.6,714.0 L675.6,711.2 L676.6,708.4 L677.6,705.5 L678.6,702.7 L679.6,699.9 L680.6,697.0 L681.6,694.2 L682.5,691.3 L683.5,688.5 L684.5,685.7 L685.5,682.8 L686.5,680.0 L687.5,677.2 L688.5,674.3 L689.5,671.5 L690.5,668.6 L691.5,665.8 L692.4,662.9 L693.4,660.1 L694.4,657.3 L695.4,654.4 L696.4,651.6 L697.4,648.7 L698.4,645.9 L699.3,643.1 L700.3,640.2 L701.3,637.4 L702.3,634.6 L703.3,631.7 L704.3,628.9 L705.4,626.1 L706.4,623.3 L707.4,620.4 L708.4,617.6 L709.5,614.8 L710.5,612.0 L711.6,609.2 L712.7,606.4 L713.7,603.6 L714.8,600.8 L715.9,598.1 L717.0,595.3 L718.2,592.5 L719.3,589.7 L720.4,587.0 L721.6,584.2 L722.8,581.5 L724.0,578.7 L725.2,576.0 L726.4,573.3 L727.6,570.6 L728.9,567.9 L730.2,565.1 L731.4,562.5 L732.8,559.8 L734.1,557.1 L735.4,554.4 L736.8,551.8 L738.2,549.1 L739.6,546.5 L741.0,543.9 L742.5,541.2 L744.0,538.7 L745.5,536.1 L747.1,533.5 L748.7,531.0 L750.3,528.5 L752.0,526.0 L753.7,523.6 L755.4,521.2 L757.3,518.8 L759.1,516.4 L761.0,514.1 L763.0,511.8 L765.0,509.6 L767.1,507.4 L769.3,505.3 L771.5,503.2 L773.8,501.1 L776.1,499.1 L778.5,497.2 L781.0,495.3 L783.5,493.6 L786.1,492.0 L788.8,490.5 L791.5,489.2 L794.2,488.1 L797.0,487.3 L799.8,486.6 L802.6,486.3 L805.4,486.2 L808.2,486.5 L811.0,487.1 L813.7,488.1 L816.3,489.4 L818.8,491.1 L821.2,493.0 L823.5,495.1 L825.7,497.2 L827.7,499.5 L829.6,501.8 L831.3,504.1 L832.9,506.6 L834.5,509.1 L835.9,511.6 L837.3,514.2 L838.5,516.9 L839.7,519.6 L840.8,522.3 L841.9,525.1 L842.9,527.9 L843.9,530.7 L844.9,533.5 L845.8,536.4 L846.7,539.3 L847.6,542.1 L848.5,545.0 L849.4,547.9 L850.3,550.8 L851.2,553.7 L852.0,556.6 L852.9,559.5 L853.8,562.4 L854.7,565.3 L855.5,568.2 L856.4,571.1 L857.2,574.0 L858.1,576.9 L858.9,579.8 L859.7,582.7 L860.5,585.6 L861.3,588.6 L862.1,591.5 L862.9,594.4 L863.6,597.3 L864.4,600.3 L865.1,603.2 L865.8,606.1 L866.5,609.0 L867.2,612.0 L867.9,614.9 L868.6,617.8 L869.2,620.7 L869.8,623.7 L870.5,626.6 L871.1,629.5 L871.7,632.5 L872.2,635.4 L872.8,638.3 L873.4,641.3 L873.9,644.2 L874.4,647.1 L875.0,650.0 L875.5,653.0 L876.0,655.9 L876.5,658.8 L877.0,661.8 L877.5,664.7 L878.0,667.6 L878.5,670.6 L879.0,673.5 L879.5,676.5 L879.9,679.4 L880.4,682.3 L880.9,685.3 L881.4,688.2 L881.9,691.1 L882.4,694.1 L882.8,697.0 L883.3,700.0 L883.8,702.9 L884.3,705.8 L884.8,708.8 L885.3,711.7 L885.8,714.7 L886.4,717.6 L886.9,720.5 L887.4,723.5 L888.0,726.4 L888.5,729.4 L889.1,732.3 L889.7,735.2 L890.3,738.2 L890.9,741.1 L891.5,744.1 L892.1,747.0 L892.7,750.0 L893.3,752.9 L894.0,755.9 L894.6,758.8 L895.3,761.7 L895.9,764.7 L896.6,767.6 L897.2,770.6 L897.9,773.5 L898.5,776.5 L899.2,779.4 L899.8,782.4 L900.4,785.3 L901.1,788.3 L901.7,791.2 L902.3,794.2 L903.0,797.1 L903.6,800.1 L904.2,803.0 L904.7,806.0 L905.3,808.9 L905.9,811.9 L906.4,814.8 L907.0,817.8 L907.5,820.7 L908.1,823.7 L908.6,826.6 L909.1,829.6 L909.6,832.5 L910.1,835.5 L910.6,838.5 L911.1,841.4 L911.6,844.4 L912.1,847.3 L912.6,850.3 L913.0,853.2 L913.5,856.2 L914.0,859.1 L914.5,862.1 L915.0,865.1 L915.5,868.0 L915.9,871.0 L916.4,873.9 L916.9,876.9 L917.4,879.9 L917.9,882.8 L918.4,885.8 L918.9,888.7 L919.4,891.7 L919.9,894.6 L920.4,897.6 L920.9,900.6 L921.4,903.5 L921.9,906.5 L922.4,909.4 L922.9,912.4 L923.4,915.4 L924.0,918.3 L924.5,921.3 L925.0,924.2 L925.6,927.2 L926.1,930.1 L926.6,933.1 L927.2,936.0 L927.7,939.0 L928.3,941.9 L928.8,944.9 L929.4,947.8 L929.9,950.8 L930.5,953.7 L931.1,956.7 L931.7,959.6 L932.2,962.6 L932.8,965.5 L933.4,968.5 L934.0,971.4 L934.6,974.3 L935.2,977.3 L935.8,980.2 L936.4,983.2 L937.1,986.1 L937.7,989.0 L938.3,992.0 L938.9,994.9 L939.6,997.8 L940.2,1000.7 L940.9,1003.7 L941.6,1006.6 L942.2,1009.5 L942.9,1012.4 L943.6,1015.4 L944.3,1018.3 L945.0,1021.2 L945.7,1024.1 L946.4,1027.0 L947.1,1029.9 L947.8,1032.8 L948.5,1035.7 L949.3,1038.6 L950.0,1041.5 L950.8,1044.4 L951.5,1047.3 L952.3,1050.2 L953.1,1053.1 L953.8,1056.0 L954.6,1058.9 L955.4,1061.7 L956.3,1064.6 L957.1,1067.5 L957.9,1070.4 L958.7,1073.2 L959.6,1076.1 L960.4,1079.0 L961.3,1081.8 L962.2,1084.7 L963.1,1087.5 L964.0,1090.4 L964.9,1093.2 L965.8,1096.1 L966.7,1098.9 L967.7,1101.8 L968.6,1104.6 L969.6,1107.4 L970.5,1110.3 L971.5,1113.1 L972.5,1115.9 L973.5,1118.7 L974.5,1121.6 L975.6,1124.4 L976.6,1127.2 L977.6,1130.0 L978.7,1132.8 L979.8,1135.6 L980.9,1138.4 L982.0,1141.2 L983.1,1144.0 L984.2,1146.7 L985.4,1149.5 L986.5,1152.3 L987.7,1155.1 L988.9,1157.8 L990.1,1160.6 L991.3,1163.3 L992.6,1166.1 L993.8,1168.8 L995.1,1171.6 L996.4,1174.3 L997.7,1177.1 L999.0,1179.8 L1000.4,1182.5 L1001.7,1185.2 L1003.1,1188.0 L1004.5,1190.6 L1006.0,1193.3 L1007.5,1196.0 L1009.0,1198.6 L1010.5,1201.2 L1012.1,1203.8 L1013.7,1206.3 L1015.4,1208.8 L1017.1,1211.3 L1018.9,1213.7 L1020.7,1216.0 L1022.5,1218.3 L1024.4,1220.6 L1026.4,1222.8 L1028.4,1224.9 L1030.5,1227.0 L1032.6,1229.0 L1034.8,1231.0 L1037.1,1232.8 L1039.4,1234.6 L1041.8,1236.3 L1044.2,1238.0 L1046.7,1239.6 L1049.2,1241.1 L1051.8,1242.6 L1054.5,1243.9 L1057.1,1245.3 L1059.8,1246.5 L1062.6,1247.7 L1065.4,1248.9 L1068.2,1249.9 L1071.0,1251.0 L1073.9,1251.9 L1076.8,1252.8 L1079.7,1253.7 L1082.7,1254.4 L1085.6,1255.2 L1088.6,1255.9 L1091.6,1256.5 L1094.5,1257.0 L1097.5,1257.6 L1100.5,1258.0 L1103.5,1258.5 L1106.5,1258.9 L1109.5,1259.2 L1112.5,1259.6 L1115.5,1259.9 L1118.4,1260.1 L1121.4,1260.3 L1124.3,1260.6 L1127.2,1260.7 L1130.1,1260.9 L1133.0,1261.1 L1135.0,1261.0 L1144.8,1261.0 L1154.7,1261.0 L1164.5,1261.0 L1174.4,1261.0 L1184.2,1261.0 L1194.1,1261.0 L1203.9,1261.0 L1213.8,1261.0 L1223.6,1261.0 L1233.5,1261.0 L1243.3,1261.0 L1253.2,1261.0 L1263.0,1261.0 L1272.9,1261.0 L1282.7,1261.0 L1292.6,1261.0 L1302.4,1261.0 L1312.3,1261.0 L1322.1,1261.0 L1332.0,1261.0 L1341.8,1261.0 L1351.7,1261.0 L1361.5,1261.0 L1371.4,1261.0 L1381.2,1261.0 L1391.1,1261.0 L1400.9,1261.0 L1410.8,1261.0 L1420.6,1261.0 L1430.5,1261.0 L1440.3,1261.0 L1450.2,1261.0 L1460.0,1261.0 L1469.9,1261.0 L1479.7,1261.0 L1489.6,1261.0 L1499.4,1261.0 L1509.3,1261.0 L1519.1,1261.0 L1529.0,1261.0 L1538.8,1261.0 L1548.7,1261.0 L1558.5,1261.0 L1568.4,1261.0 L1578.2,1261.0 L1588.1,1261.0 L1597.9,1261.0 L1607.8,1261.0 L1617.6,1261.0 L1627.5,1261.0 L1637.3,1261.0 L1647.2,1261.0 L1657.0,1261.0" stroke="#800080"/>
</g>
<rect x="1156" y="1258.2" width="22" height="2.6" fill="#d9b3d9"/>
<rect x="1199" y="1258.2" width="3" height="2.6" fill="#e6cce6"/>
<rect x="1210" y="1258.2" width="3" height="2.6" fill="#b366b3"/>
<rect x="1216" y="1258.2" width="3" height="2.6" fill="#99cc99"/>
<rect x="1382" y="1258.2" width="18" height="2.6" fill="#d9b3d9"/>
<rect x="1400" y="1258.2" width="26" height="2.6" fill="#cc99cc"/>
<rect x="1446" y="1258.2" width="34" height="2.6" fill="#d9b3d9"/>
<rect x="1480" y="1258.2" width="38" height="2.6" fill="#cc99cc"/>
<rect x="1549" y="1258.2" width="15" height="2.6" fill="#d9b3d9"/>
<rect x="1640" y="1258.2" width="10" height="2.6" fill="#e6cce6"/>
<g stroke="#000" stroke-linecap="butt">
<line x1="189.4" y1="181" x2="189.4" y2="1266" stroke-width="2.6"/>
<line x1="166" y1="1265" x2="1679" y2="1265" stroke-width="2.8"/>
<line x1="166" y1="184" x2="1679" y2="184" stroke-width="5.6"/>
<line x1="1657.7" y1="173" x2="1657.7" y2="1285" stroke-width="5"/>
<line x1="166" y1="1264.5" x2="189" y2="1264.5" stroke-width="2.6"/>
<line x1="177" y1="1174.5" x2="189" y2="1174.5" stroke-width="2.6"/>
<line x1="166" y1="1084.4" x2="189" y2="1084.4" stroke-width="2.6"/>
<line x1="177" y1="994.3" x2="189" y2="994.3" stroke-width="2.6"/>
<line x1="166" y1="904.3" x2="189" y2="904.3" stroke-width="5.4"/>
<line x1="177" y1="814.2" x2="189" y2="814.2" stroke-width="5.4"/>
<line x1="166" y1="724.2" x2="189" y2="724.2" stroke-width="2.6"/>
<line x1="177" y1="634.1" x2="189" y2="634.1" stroke-width="2.6"/>
<line x1="166" y1="544.1" x2="189" y2="544.1" stroke-width="5.4"/>
<line x1="177" y1="454.0" x2="189" y2="454.0" stroke-width="5.4"/>
<line x1="166" y1="364.0" x2="189" y2="364.0" stroke-width="5.4"/>
<line x1="177" y1="273.9" x2="189" y2="273.9" stroke-width="5.4"/>
<line x1="166" y1="183.9" x2="189" y2="183.9" stroke-width="5.4"/>
<line x1="1658" y1="1264.5" x2="1679.0" y2="1264.5" stroke-width="2.6"/>
<line x1="1658" y1="1174.5" x2="1668.5" y2="1174.5" stroke-width="2.6"/>
<line x1="1658" y1="1084.4" x2="1679.0" y2="1084.4" stroke-width="2.6"/>
<line x1="1658" y1="994.3" x2="1668.5" y2="994.3" stroke-width="2.6"/>
<line x1="1658" y1="904.3" x2="1679.0" y2="904.3" stroke-width="5.4"/>
<line x1="1658" y1="814.2" x2="1668.5" y2="814.2" stroke-width="5.4"/>
<line x1="1658" y1="724.2" x2="1679.0" y2="724.2" stroke-width="2.6"/>
<line x1="1658" y1="634.1" x2="1668.5" y2="634.1" stroke-width="2.6"/>
<line x1="1658" y1="544.1" x2="1679.0" y2="544.1" stroke-width="5.4"/>
<line x1="1658" y1="454.0" x2="1668.5" y2="454.0" stroke-width="5.4"/>
<line x1="1658" y1="364.0" x2="1679.0" y2="364.0" stroke-width="5.4"/>
<line x1="1658" y1="273.9" x2="1668.5" y2="273.9" stroke-width="5.4"/>
<line x1="1658" y1="183.9" x2="1679.0" y2="183.9" stroke-width="5.4"/>
<line x1="280.3" y1="1265" x2="280.3" y2="1274" stroke-width="5.0"/>
<line x1="433.3" y1="1265" x2="433.3" y2="1285" stroke-width="5.0"/>
<line x1="586.3" y1="1265" x2="586.3" y2="1274" stroke-width="2.6"/>
<line x1="739.4" y1="1265" x2="739.4" y2="1285" stroke-width="2.6"/>
<line x1="892.4" y1="1265" x2="892.4" y2="1274" stroke-width="2.6"/>
<line x1="1045.4" y1="1265" x2="1045.4" y2="1285" stroke-width="2.6"/>
<line x1="1198.4" y1="1265" x2="1198.4" y2="1274" stroke-width="5.0"/>
<line x1="1351.5" y1="1265" x2="1351.5" y2="1285" stroke-width="5.0"/>
<line x1="1504.5" y1="1265" x2="1504.5" y2="1274" stroke-width="5.0"/>
<line x1="1657.5" y1="1265" x2="1657.5" y2="1285" stroke-width="2.6"/>
<line x1="229.3" y1="184" x2="229.3" y2="162" stroke-width="2.4"/>
<line x1="322.0" y1="184" x2="322.0" y2="173" stroke-width="3.0"/>
<line x1="433.3" y1="184" x2="433.3" y2="162" stroke-width="5.0"/>
<line x1="569.3" y1="184" x2="569.3" y2="173" stroke-width="5.0"/>
<line x1="739.4" y1="184" x2="739.4" y2="162" stroke-width="2.4"/>
<line x1="958.0" y1="184" x2="958.0" y2="173" stroke-width="2.6"/>
<line x1="1249.4" y1="184" x2="1249.4" y2="162" stroke-width="2.4"/>
<line x1="1657.5" y1="184" x2="1657.5" y2="173" stroke-width="5.0"/>
</g>
<g font-size="48" stroke="#fff" stroke-width="1.2">
<text x="151.5" y="1278.5" text-anchor="end">0.0</text>
<text x="1695" y="1278.1">0.0</text>
<text x="151.5" y="1098.4" text-anchor="end">0.2</text>
<text x="1695" y="1098.0">0.2</text>
<text x="151.5" y="918.3" text-anchor="end">0.4</text>
<text x="1695" y="917.9">0.4</text>
<text x="151.5" y="738.2" text-anchor="end">0.6</text>
<text x="1695" y="737.8">0.6</text>
<text x="151.5" y="558.1" text-anchor="end">0.8</text>
<text x="1695" y="557.7">0.8</text>
<text x="151.5" y="378.0" text-anchor="end">1.0</text>
<text x="1695" y="377.6">1.0</text>
<text x="151.5" y="197.9" text-anchor="end">1.2</text>
<text x="1695" y="197.5">1.2</text>
<text x="433.3" y="1338.5" text-anchor="middle">400</text>
<text x="739.4" y="1338.5" text-anchor="middle">500</text>
<text x="1045.4" y="1338.5" text-anchor="middle">600</text>
<text x="1351.5" y="1338.5" text-anchor="middle">700</text>
<text x="1657.5" y="1338.5" text-anchor="middle">800</text>
<text x="229.3" y="134.8" text-anchor="middle">30000</text>
<text x="433.3" y="134.8" text-anchor="middle">25000</text>
<text x="739.4" y="134.8" text-anchor="middle">20000</text>
<text x="1249.4" y="134.8" text-anchor="middle">15000</text>
</g>
<line x1="1219" y1="220.4" x2="1622" y2="220.4" stroke="#000" stroke-width="2.6"/>
<g font-size="37.5" stroke="#fff" stroke-width="1">
<line x1="1259.6" y1="268.4" x2="1346.7" y2="268.4" stroke="#ff8000" stroke-width="5.2"/>
<text x="1355.5" y="281.8"><tspan font-weight="bold">5</tspan>: Abs.</text>
<line x1="1259.6" y1="320.2" x2="1346.7" y2="320.2" stroke="#cce6cc" stroke-width="5.2"/>
<text x="1355.5" y="333.6"><tspan font-weight="bold">5 </tspan><tspan font-weight="bold">+</tspan><tspan font-weight="bold"> H</tspan><tspan font-size="25" font-weight="normal" stroke="none" dy="-15">+</tspan><tspan dy="15">: Abs. 1.</tspan></text>
<line x1="1259.6" y1="372.0" x2="1346.7" y2="372.0" stroke="#99cc99" stroke-width="5.2"/>
<text x="1355.5" y="385.4"><tspan font-weight="bold">5 </tspan><tspan font-weight="bold">+</tspan><tspan font-weight="bold"> H</tspan><tspan font-size="25" font-weight="normal" stroke="none" dy="-15">+</tspan><tspan dy="15">: Abs. 2.</tspan></text>
<line x1="1259.6" y1="423.8" x2="1346.7" y2="423.8" stroke="#66b366" stroke-width="5.2"/>
<text x="1355.5" y="437.2"><tspan font-weight="bold">5 </tspan><tspan font-weight="bold">+</tspan><tspan font-weight="bold"> H</tspan><tspan font-size="25" font-weight="normal" stroke="none" dy="-15">+</tspan><tspan dy="15">: Abs. 3.</tspan></text>
<line x1="1259.6" y1="475.6" x2="1346.7" y2="475.6" stroke="#339933" stroke-width="5.2"/>
<text x="1355.5" y="489.0"><tspan font-weight="bold">5 </tspan><tspan font-weight="bold">+</tspan><tspan font-weight="bold"> H</tspan><tspan font-size="25" font-weight="normal" stroke="none" dy="-15">+</tspan><tspan dy="15">: Abs. 4.</tspan></text>
<line x1="1259.6" y1="527.5" x2="1346.7" y2="527.5" stroke="#008000" stroke-width="5.2"/>
<text x="1355.5" y="540.9"><tspan font-weight="bold">5 </tspan><tspan font-weight="bold">+</tspan><tspan font-weight="bold"> H</tspan><tspan font-size="25" font-weight="normal" stroke="none" dy="-15">+</tspan><tspan dy="15">: Abs. 5.</tspan></text>
<line x1="1259.6" y1="579.3" x2="1346.7" y2="579.3" stroke="#e6cce6" stroke-width="5.2"/>
<text x="1355.5" y="592.7"><tspan font-weight="bold">5 </tspan><tspan font-weight="normal">-</tspan><tspan font-weight="bold"> H</tspan><tspan font-size="25" font-weight="bold" stroke="none" dy="-15">+</tspan><tspan dy="15">: Abs. 1.</tspan></text>
<line x1="1259.6" y1="631.1" x2="1346.7" y2="631.1" stroke="#cc99cc" stroke-width="5.2"/>
<text x="1355.5" y="644.5"><tspan font-weight="bold">5 </tspan><tspan font-weight="normal">-</tspan><tspan font-weight="bold"> H</tspan><tspan font-size="25" font-weight="bold" stroke="none" dy="-15">+</tspan><tspan dy="15">: Abs. 2.</tspan></text>
<line x1="1259.6" y1="682.9" x2="1346.7" y2="682.9" stroke="#b366b3" stroke-width="5.2"/>
<text x="1355.5" y="696.3"><tspan font-weight="bold">5 </tspan><tspan font-weight="normal">-</tspan><tspan font-weight="bold"> H</tspan><tspan font-size="25" font-weight="bold" stroke="none" dy="-15">+</tspan><tspan dy="15">: Abs. 3.</tspan></text>
<line x1="1259.6" y1="734.7" x2="1346.7" y2="734.7" stroke="#993399" stroke-width="5.2"/>
<text x="1355.5" y="748.1"><tspan font-weight="bold">5 </tspan><tspan font-weight="normal">-</tspan><tspan font-weight="bold"> H</tspan><tspan font-size="25" font-weight="bold" stroke="none" dy="-15">+</tspan><tspan dy="15">: Abs. 4.</tspan></text>
<line x1="1259.6" y1="786.5" x2="1346.7" y2="786.5" stroke="#800080" stroke-width="5.2"/>
<text x="1355.5" y="799.9"><tspan font-weight="bold">5 </tspan><tspan font-weight="normal">-</tspan><tspan font-weight="bold"> H</tspan><tspan font-size="25" font-weight="bold" stroke="none" dy="-15">+</tspan><tspan dy="15">: Abs. 5.</tspan></text>
</g>
<text x="668" y="64.5" font-size="58">wavenumber</text>
<text x="1017" y="64.5" font-size="58" font-family="Liberation Serif, serif" stroke="#fff" stroke-width="0.8">&#957;</text>
<text x="1032" y="56" font-size="40" font-family="Liberation Sans, sans-serif">&#732;</text>
<text x="1062" y="64.5" font-size="58">[cm</text>
<text x="1155" y="42" font-size="40">-1</text>
<text x="1190" y="64.5" font-size="58">]</text>
<text x="689" y="1412.5" font-size="57.5">wavelength</text>
<text x="999" y="1412.5" font-size="60" font-family="Liberation Serif, serif" stroke="#fff" stroke-width="0.8">&#955;</text>
<text x="1046" y="1412.5" font-size="57.5">[nm]</text>
<text transform="translate(61.6,679) rotate(-90)" text-anchor="middle" font-size="58">absorbance</text>
</svg>
</body></html>
